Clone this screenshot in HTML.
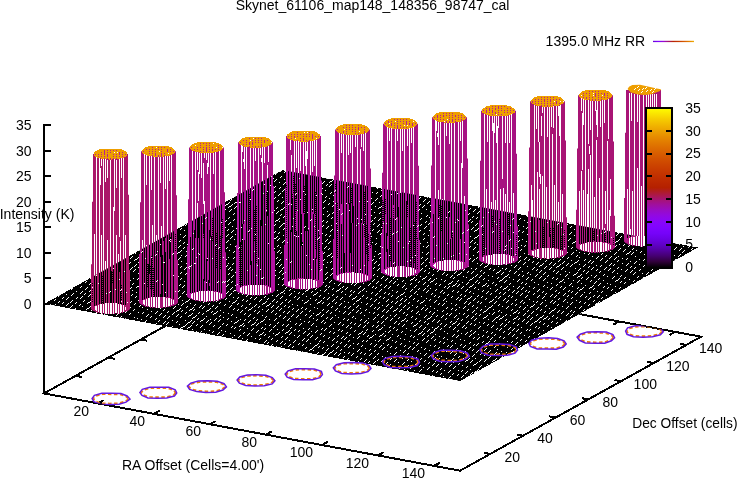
<!DOCTYPE html>
<html lang="en"><head><meta charset="utf-8"><title>Skynet_61106_map148_148356_98747_cal</title>
<style>
html,body{margin:0;padding:0;background:#fff;}
body{width:738px;height:478px;overflow:hidden;}
svg{display:block;}
text{font-family:"Liberation Sans",Arial,Helvetica,sans-serif;font-size:14px;fill:#000;}
</style></head><body>
<svg width="738" height="478" viewBox="0 0 738 478">
<defs>
<linearGradient id="cb" x1="0" y1="1" x2="0" y2="0">
<stop offset="0%" stop-color="#000000"/>
<stop offset="3.6%" stop-color="#300039"/>
<stop offset="7.1%" stop-color="#44006f"/>
<stop offset="10.7%" stop-color="#53009f"/>
<stop offset="14.3%" stop-color="#6001c7"/>
<stop offset="17.9%" stop-color="#6c01e6"/>
<stop offset="21.4%" stop-color="#7603f9"/>
<stop offset="25%" stop-color="#8004ff"/>
<stop offset="28.6%" stop-color="#8806f9"/>
<stop offset="32.1%" stop-color="#9108e6"/>
<stop offset="35.7%" stop-color="#980cc7"/>
<stop offset="39.3%" stop-color="#a00f9f"/>
<stop offset="42.9%" stop-color="#a7146f"/>
<stop offset="46.4%" stop-color="#ae1a39"/>
<stop offset="50%" stop-color="#b42000"/>
<stop offset="53.6%" stop-color="#bb2700"/>
<stop offset="57.1%" stop-color="#c13000"/>
<stop offset="60.7%" stop-color="#c73900"/>
<stop offset="64.3%" stop-color="#cc4400"/>
<stop offset="67.9%" stop-color="#d25000"/>
<stop offset="71.4%" stop-color="#d85d00"/>
<stop offset="75%" stop-color="#dd6c00"/>
<stop offset="78.6%" stop-color="#e27c00"/>
<stop offset="82.1%" stop-color="#e78d00"/>
<stop offset="85.7%" stop-color="#eca100"/>
<stop offset="89.3%" stop-color="#f1b600"/>
<stop offset="92.9%" stop-color="#f6cc00"/>
<stop offset="96.4%" stop-color="#fae500"/>
<stop offset="100%" stop-color="#ffff00"/>
</linearGradient>
<linearGradient id="lg" x1="0" y1="0" x2="1" y2="0">
<stop offset="0%" stop-color="#6601d7"/>
<stop offset="12.5%" stop-color="#8004ff"/>
<stop offset="25%" stop-color="#950ad7"/>
<stop offset="37.5%" stop-color="#a7146d"/>
<stop offset="50%" stop-color="#b82400"/>
<stop offset="62.5%" stop-color="#c73a00"/>
<stop offset="75%" stop-color="#d55700"/>
<stop offset="87.5%" stop-color="#e37e00"/>
<stop offset="100%" stop-color="#efae00"/>
</linearGradient>
<clipPath id="pc"><polygon points="44.6,303.7 282.3,170.1 697.8,247.5 460.1,381.1"/></clipPath>
<clipPath id="fc"><polygon points="44,393.4 285,259.4 701.1,336.7 460.1,470.7"/></clipPath>
</defs>
<rect width="738" height="478" fill="#fff"/>
<g stroke="#000" stroke-width="2" fill="none" shape-rendering="crispEdges">
<path d="M44 124V394"/>
<polygon points="44,393.4 285,259.4 701.1,336.7 460.1,470.7"/>
<path d="M44 303.7H51M44 278.2H51M44 252.6H51M44 227.1H51M44 201.6H51M44 176H51M44 150.5H51M44 125H51"/>
<path d="M98 403.4l5.7 -3.2M339 269.4l-5.7 3.2M154 413.8l5.7 -3.2M395 279.8l-5.7 3.2M210 424.2l5.7 -3.2M451 290.2l-5.7 3.2M266 434.6l5.7 -3.2M507 300.6l-5.7 3.2M322 445l5.7 -3.2M563 311l-5.7 3.2M378 455.4l5.7 -3.2M619 321.4l-5.7 3.2M434 465.9l5.7 -3.2M675 331.9l-5.7 3.2M490.3 453.9l-6.4 -1.2M75.7 375.8l6.4 1.2M523 435.7l-6.4 -1.2M108.4 357.6l6.4 1.2M555.6 417.6l-6.4 -1.2M141 339.5l6.4 1.2M588.3 399.4l-6.4 -1.2M173.7 321.3l6.4 1.2M621 381.2l-6.4 -1.2M206.4 303.1l6.4 1.2M653.6 363.1l-6.4 -1.2M239 285l6.4 1.2M686.3 344.9l-6.4 -1.2M271.7 266.8l6.4 1.2"/>
</g>
<polygon points="44.6,303.7 282.3,170.1 697.8,247.5 460.1,381.1" fill="#000" shape-rendering="crispEdges"/>
<path clip-path="url(#pc)" d="M45 303l1-1M49 299l1-1M49 306l2-2M54 301l2-2M53 307l3-3M58 297l3-3M58 303l2-2M57 309l3-3M63 293l2-2M62 299l2-2M62 304l2-2M66 295l1-1M66 300l3-3M66 306l3-3M71 290l2-2M71 296l3-3M70 303l3-3M70 308l3-3M76 286l3-3M76 292l1-1M76 299l2-2M75 304l2-2M74 310l2-2M81 282l2-2M80 288l2-2M80 294l3-3M80 299l3-3M79 306l2-2M78 313l2-2M85 283l2-2M85 290l3-3M84 295l2-2M83 302l2-2M82 307l1-1M82 313l2-2M90 279l3-3M89 285l2-2M89 292l3-3M88 297l3-3M87 304l2-2h1l2-2M86 310l2-2h1l2-2M95 275l2-2M94 281l2-2M94 287l1-1M93 292l3-3M92 299l1-1M91 305l1-1M91 311l1-1M98 277l3-3M98 283l3-3M98 289l3-3M97 295l3-3M97 301l2-2M95 307l1-1M95 314l3-3M104 273l3-3M102 279l1-1M102 285l2-2M101 290l2-2M101 296l1-1M100 303l1-1M99 309l2-2M100 315l2-2M108 268l3-3M107 274l3-3M107 280l1-1M106 286l3-3M106 292l2-2M104 298l3-3M105 304l1-1M103 310l1-1M103 316l3-3M112 264l3-3M113 270l3-3M111 276l2-2M110 282l3-3M110 289l2-2h1l2-2M110 294l1-1M109 301l2-2h1l2-2M109 306l2-2M108 312l3-3M117 265l2-2M116 271l3-3M116 278l2-2M115 283l3-3M114 289l3-3M114 296l3-3M113 303l2-2M112 308l3-3M112 314l2-2M121 261l1-1M121 267l3-3M121 274l2-2M118 280l2-2h1l2-2M119 286l3-3M118 291l1-1M117 298l2-2M117 304l3-3M116 310l1-1M116 316l3-3M126 256l1-1M126 263l2-2M125 269l2-2M123 276l2-2h1l2-2M124 281l2-2M123 288l1-1M123 293l3-3M122 299l3-3M121 306l2-2M121 311l1-1M120 318l2-2M130 259l3-3M129 264l2-2M130 270l3-3M129 277l1-1M128 283l3-3M127 291l2-2h1l2-2M127 295l3-3M126 301l2-2M125 307l1-1M125 313l2-2M124 320l2-2M135 254l1-1M134 261l2-2h1l2-2M134 267l3-3M133 272l3-3M133 279l1-1M132 285l2-2M132 291l1-1M131 296l2-2M130 303l2-2M129 309l2-2M129 315l2-2M128 321l1-1M139 251l3-3M139 256l1-1M138 263l3-3M138 268l3-3M138 274l3-3M137 280l2-2M136 288l2-2h1l2-2M136 293l1-1M135 298l2-2M134 305l2-2M133 311l2-2M134 318l1-1M145 246l2-2M144 251l2-2M144 257l3-3M143 264l3-3M142 271l1-1M140 277l2-2h1l2-2M140 282l1-1M141 288l2-2M139 295l2-2h1l2-2M138 301l2-2h1l2-2M139 307l2-2M138 313l1-1M137 319l1-1M148 247l2-2M147 254l3-3M147 259l3-3M147 265l1-1M146 272l2-2M146 278l2-2M145 284l2-2M145 291l1-1M144 296l2-2M143 303l2-2M142 308l1-1M142 314l2-2M141 320l1-1M154 243l2-2M153 249l3-3M152 256l2-2M152 262l1-1M151 268l2-2M150 274l2-2M150 280l3-3M149 286l2-2M149 292l2-2M147 298l3-3M147 305l3-3M147 310l1-1M146 317l3-3M145 322l2-2M158 238l2-2M157 245l2-2M155 252l2-2h1l2-2M156 258l3-3M156 264l2-2M155 269l2-2M154 276l2-2M154 282l3-3M153 287l2-2M153 294l1-1M152 300l3-3M151 306l2-2M151 312l1-1M150 318l2-2M150 324l1-1M162 240l1-1M161 246l1-1M161 253l3-3M161 259l1-1M159 265l2-2M159 271l2-2M158 278l2-2M158 283l3-3M157 290l3-3M157 295l2-2M156 301l2-2M155 308l2-2h1l2-2M155 314l3-3M155 320l2-2M152 327l2-2h1l2-2M166 237l1-1M166 243l3-3M166 249l3-3M165 255l2-2M164 261l3-3M164 267l3-3M163 273l2-2M162 279l2-2M162 285l1-1M161 291l1-1M161 298l3-3M161 303l1-1M160 309l3-3M159 316l3-3M158 322l2-2M172 232l1-1M170 238l3-3M170 245l1-1M170 251l3-3M169 256l1-1M168 263l3-3M168 268l1-1M167 275l3-3M166 281l3-3M166 287l2-2M165 293l3-3M165 300l3-3M164 306l3-3M163 311l2-2M163 318l3-3M163 324l3-3M176 228l3-3M175 234l1-1M175 240l2-2M174 246l3-3M174 252l3-3M173 258l1-1M173 264l3-3M172 271l2-2M171 276l2-2M171 283l3-3M170 289l3-3M169 295l2-2M169 302l3-3M168 307l3-3M167 313l2-2M167 319l3-3M166 325l3-3M180 230l2-2M180 235l1-1M179 242l2-2M178 248l3-3M177 254l2-2h1l2-2M178 260l3-3M176 267l3-3M176 272l2-2M176 279l3-3M175 285l3-3M175 291l1-1M174 296l2-2M173 303l2-2M173 309l3-3M172 315l3-3M172 321l1-1M171 328l2-2M185 226l2-2M184 231l1-1M183 238l3-3M183 244l2-2M183 249l2-2M181 256l1-1M181 262l1-1M180 268l2-2M180 274l2-2M180 280l2-2M179 286l2-2M178 292l2-2M176 300l2-2h1l2-2M178 305l1-1M176 312l2-2h1l2-2M176 317l3-3M176 323l2-2M174 329l1-1M189 223l2-2h1l2-2M189 227l1-1M189 233l3-3M188 239l2-2M187 245l1-1M186 252l1-1M185 257l2-2M186 264l2-2M184 270l3-3M185 275l3-3M184 282l1-1M182 288l3-3M182 294l3-3M182 301l1-1M181 306l3-3M181 312l2-2M180 318l2-2M179 325l1-1M179 330l3-3M193 224l2-2h1l2-2M193 229l1-1M193 235l1-1M192 241l2-2M192 247l3-3M190 253l1-1M191 260l2-2M189 265l1-1M189 272l2-2M188 278l2-2M188 284l3-3M187 290l3-3M186 295l3-3M185 303l2-2h1l2-2M186 308l2-2M185 314l2-2M185 321l1-1M182 328l2-2h1l2-2M198 218l1-1M198 224l2-2M197 231l1-1M196 237l2-2M196 243l2-2M194 249l2-2h1l2-2M195 255l3-3M194 261l3-3M194 267l3-3M193 273l3-3M193 280l1-1M192 285l1-1M191 292l3-3M189 298l2-2h1l2-2M190 304l1-1M189 311l2-2h1l2-2M188 317l2-2h1l2-2M187 324l2-2h1l2-2M187 329l2-2h1l2-2M202 216l2-2h1l2-2M202 221l2-2M202 226l1-1M201 233l2-2M201 239l1-1M200 245l3-3M199 251l3-3M199 256l3-3M197 264l2-2h1l2-2M197 269l3-3M197 275l3-3M197 281l1-1M196 288l1-1M196 294l3-3M193 300l2-2h1l2-2M194 306l2-2M193 311l2-2M192 319l2-2h1l2-2M192 324l3-3M192 330l1-1M207 216l1-1M207 222l2-2M206 228l1-1M206 234l2-2M205 240l1-1M205 246l3-3M204 252l2-2M203 258l3-3M202 265l2-2M201 271l3-3M202 277l3-3M201 283l3-3M200 290l2-2M200 295l2-2M198 301l3-3M199 308l3-3M198 314l2-2M197 320l2-2M196 326l2-2M196 332l1-1M212 212l3-3M211 218l1-1M211 224l2-2M210 231l2-2h1l2-2M209 236l1-1M209 242l2-2M209 248l2-2M206 255l2-2h1l2-2M208 261l2-2M207 266l1-1M206 273l1-1M206 279l3-3M204 285l2-2M204 291l2-2M203 297l2-2M203 303l2-2M202 309l3-3M202 315l2-2M200 322l2-2h1l2-2M200 328l3-3M200 333l2-2M216 208l1-1M215 214l2-2h1l2-2M216 219l2-2M215 226l2-2M214 232l3-3M213 238l3-3M213 245l2-2M213 250l2-2M211 256l2-2M211 263l2-2h1l2-2M211 269l2-2M211 275l1-1M209 281l1-1M209 286l2-2M208 293l3-3M208 299l2-2M208 305l2-2M206 312l2-2h1l2-2M206 317l1-1M206 323l3-3M204 330l1-1M204 336l3-3M222 204l1-1M220 209l3-3M220 215l3-3M219 222l2-2h1l2-2M219 227l3-3M218 233l2-2M218 240l3-3M217 246l2-2M217 251l2-2M215 259l2-2M215 264l2-2M215 270l3-3M214 277l2-2M214 283l2-2M213 289l3-3M213 295l2-2M211 300l2-2M212 307l2-2M211 313l2-2M210 320l1-1M209 325l3-3M209 331l1-1M225 206l2-2h1l2-2M224 211l2-2M224 218l1-1M224 223l3-3M223 230l3-3M223 236l1-1M222 241l3-3M222 247l3-3M221 254l3-3M220 260l1-1M219 266l2-2M219 272l1-1M218 278l3-3M218 284l1-1M216 290l3-3M217 297l2-2M216 302l2-2M215 309l3-3M213 315l2-2h1l2-2M214 321l3-3M213 327l2-2M212 333l2-2M230 201l2-2M228 208l2-2h1l2-2M229 212l3-3M228 219l2-2M228 225l3-3M227 231l2-2M226 237l3-3M226 243l3-3M226 249l2-2M224 256l2-2M224 262l3-3M223 269l2-2h1l2-2M222 274l2-2M223 280l1-1M222 286l1-1M221 292l3-3M220 299l2-2M219 304l2-2M220 311l1-1M219 317l2-2M218 322l3-3M218 329l3-3M217 335l3-3M235 197l1-1M234 204l2-2h1l2-2M234 209l3-3M233 215l2-2M233 221l2-2M232 227l1-1M231 233l3-3M230 239l3-3M230 245l1-1M229 251l1-1M228 258l1-1M228 264l1-1M228 270l3-3M228 275l2-2M227 282l3-3M226 287l3-3M226 294l3-3M225 300l2-2M224 306l2-2M223 313l1-1M223 318l1-1M222 325l2-2M221 331l1-1M221 337l3-3M239 198l2-2M239 204l2-2M238 211l2-2M238 216l3-3M237 222l2-2M236 229l2-2M235 235l1-1M234 240l1-1M235 247l3-3M233 253l2-2M233 259l2-2M232 265l2-2M231 271l2-2M231 278l3-3M231 283l2-2M230 290l3-3M229 296l3-3M229 302l1-1M229 308l3-3M228 314l1-1M227 320l2-2M226 326l2-2M225 332l1-1M225 339l1-1M243 194l1-1M243 200l3-3M242 206l2-2M242 212l3-3M242 218l1-1M240 225l2-2h1l2-2M240 230l2-2M240 237l1-1M239 243l3-3M238 249l3-3M238 255l2-2M237 261l2-2M237 267l3-3M235 273l2-2M236 279l3-3M235 286l2-2M233 292l2-2h1l2-2M233 298l1-1M232 304l2-2h1l2-2M233 310l2-2M231 316l2-2M231 322l1-1M231 328l2-2M230 334l1-1M228 341l2-2h1l2-2M247 191l2-2h1l2-2M247 196l1-1M247 202l1-1M246 208l2-2M246 214l2-2M246 219l2-2M245 227l2-2M244 232l2-2M242 239l2-2h1l2-2M242 245l2-2M242 250l2-2M241 256l2-2M240 264l2-2h1l2-2M241 269l3-3M239 276l2-2h1l2-2M239 281l2-2M239 287l2-2M238 294l2-2M237 299l2-2M237 305l2-2M237 311l2-2M236 318l1-1M234 324l2-2h1l2-2M234 329l2-2M234 336l1-1M233 342l1-1M254 185l3-3M252 192l3-3M252 198l3-3M251 203l3-3M249 211l2-2h1l2-2M250 216l1-1M249 221l2-2M249 228l1-1M247 236l2-2h1l2-2M248 240l3-3M246 247l2-2M247 253l3-3M245 259l3-3M245 265l2-2M244 271l2-2M244 277l3-3M242 284l2-2h1l2-2M243 289l2-2M242 295l1-1M242 301l2-2M241 307l2-2M240 313l3-3M240 320l1-1M239 327l2-2h1l2-2M239 331l2-2M238 338l3-3M256 188l2-2h1l2-2M257 193l2-2M256 199l2-2M256 206l1-1M255 212l2-2M254 218l3-3M254 223l1-1M253 230l3-3M252 236l1-1M251 242l3-3M250 248l2-2h1l2-2M250 254l1-1M250 261l2-2M249 267l2-2M249 272l2-2M248 278l2-2M248 284l2-2M247 290l3-3M246 297l3-3M246 302l2-2M245 309l2-2M244 315l2-2M244 321l2-2M243 327l2-2M243 334l2-2M242 339l1-1M262 183l3-3M261 189l1-1M261 195l3-3M260 201l2-2M259 207l3-3M259 213l1-1M258 220l2-2M257 226l2-2M257 231l3-3M257 238l1-1M255 244l3-3M255 250l3-3M255 255l2-2M254 262l2-2M252 269l2-2h1l2-2M253 275l2-2M252 280l2-2M252 287l3-3M250 293l3-3M250 299l2-2M249 305l2-2M248 311l2-2h1l2-2M248 317l3-3M248 323l3-3M247 329l1-1M247 336l3-3M246 341l2-2M267 179l1-1M266 185l1-1M265 190l1-1M265 197l3-3M264 203l3-3M263 209l3-3M263 214l1-1M262 221l2-2M261 228l1-1M262 233l2-2M260 239l2-2M260 246l2-2M258 252l2-2h1l2-2M259 258l3-3M258 264l2-2M258 269l2-2M257 276l1-1M256 282l2-2M256 288l2-2M254 295l2-2h1l2-2M254 300l3-3M254 307l3-3M254 312l2-2M253 319l2-2M251 326l2-2h1l2-2M251 331l3-3M251 337l1-1M250 343l1-1M271 175l3-3M270 180l3-3M270 187l2-2M270 193l2-2M268 199l3-3M268 205l3-3M268 211l3-3M267 218l2-2h1l2-2M266 223l2-2M266 229l3-3M266 236l2-2M265 242l2-2M264 247l1-1M263 254l2-2M262 260l2-2h1l2-2M262 266l2-2M261 272l2-2M261 278l2-2M261 284l3-3M260 290l2-2M259 296l3-3M259 302l3-3M258 308l2-2M257 314l3-3M256 321l2-2M256 326l3-3M256 333l3-3M255 339l1-1M254 345l1-1M275 175l2-2M274 182l3-3M274 188l2-2M273 194l3-3M273 200l3-3M272 206l2-2M272 213l3-3M271 218l3-3M271 224l2-2M270 231l2-2M269 238l2-2h1l2-2M269 243l1-1M268 249l1-1M268 256l1-1M267 261l3-3M267 267l3-3M265 273l2-2M265 280l2-2M264 285l3-3M264 292l2-2M264 298l2-2M262 305l2-2h1l2-2M262 310l1-1M262 316l1-1M260 323l2-2h1l2-2M261 329l2-2M259 336l2-2h1l2-2M259 340l2-2M280 172l1-1M280 178l2-2M279 183l1-1M279 189l2-2M278 196l3-3M277 202l2-2M276 209l2-2M276 214l3-3M275 222l2-2h1l2-2M274 226l2-2M274 233l2-2M273 240l2-2h1l2-2M272 245l1-1M272 251l3-3M272 256l1-1M271 264l2-2M271 270l2-2M269 276l3-3M269 281l1-1M269 288l1-1M268 293l2-2M267 300l2-2M266 307l2-2h1l2-2M266 312l3-3M265 318l2-2M265 325l1-1M264 330l2-2M264 336l2-2M264 343l3-3M284 173l2-2M284 180l1-1M283 185l3-3M282 192l3-3M282 198l1-1M281 204l3-3M280 211l2-2h1l2-2M280 216l2-2M279 222l1-1M279 228l3-3M278 234l2-2M277 241l3-3M277 247l2-2M277 253l3-3M276 259l2-2M276 265l3-3M275 271l1-1M274 277l2-2M274 283l1-1M272 289l2-2M272 296l1-1M272 302l3-3M271 308l3-3M271 313l3-3M269 320l1-1M269 326l2-2M269 332l3-3M268 338l2-2M267 344l2-2M289 169l3-3M288 176l1-1M287 181l3-3M287 187l2-2M286 194l2-2M286 200l3-3M285 206l1-1M285 211l3-3M283 218l2-2M282 225l2-2h1l2-2M283 230l3-3M283 236l1-1M282 243l3-3M280 248l1-1M280 254l2-2M279 261l2-2M279 267l3-3M279 273l3-3M278 279l2-2M278 285l1-1M277 291l1-1M276 297l3-3M276 303l2-2M276 309l3-3M275 315l2-2M274 321l3-3M273 328l3-3M273 334l1-1M271 340l2-2M271 346l2-2M292 171l2-2M293 177l3-3M292 183l3-3M292 189l2-2M290 195l2-2M290 201l1-1M289 208l3-3M289 213l1-1M288 220l2-2h1l2-2M287 226l1-1M287 232l3-3M287 238l3-3M286 244l1-1M285 250l2-2M284 256l1-1M284 263l3-3M282 269l2-2h1l2-2M282 275l2-2M282 280l2-2M282 286l3-3M280 294l2-2h1l2-2M280 299l3-3M280 305l3-3M279 311l3-3M279 317l2-2M277 324l2-2M277 330l1-1M275 336l2-2h1l2-2M276 342l2-2M275 348l2-2M297 172l1-1M296 179l1-1M296 185l2-2M295 192l3-3M294 197l2-2M293 204l2-2h1l2-2M294 209l3-3M293 215l3-3M292 221l2-2M291 227l2-2M291 233l3-3M291 240l2-2M290 246l2-2M289 252l3-3M289 258l2-2M288 264l1-1M287 271l3-3M287 277l2-2M286 282l2-2M285 289l2-2M284 294l1-1M285 301l2-2M284 307l2-2M283 313l2-2M283 319l3-3M282 326l2-2M282 331l2-2M281 338l2-2M280 344l3-3M279 349l3-3M301 175l3-3M300 180l2-2M299 188l2-2h1l2-2M298 194l2-2h1l2-2M299 199l3-3M299 205l2-2M297 212l1-1M296 217l2-2M296 224l3-3M296 229l1-1M295 235l2-2M295 241l2-2M294 248l3-3M293 254l3-3M292 259l2-2M292 266l3-3M291 272l3-3M291 279l3-3M290 284l1-1M289 291l2-2M289 296l3-3M288 303l3-3M288 308l2-2M287 314l3-3M287 321l3-3M286 327l3-3M285 334l2-2h1l2-2M285 340l3-3M284 345l2-2M305 177l3-3M305 183l3-3M304 188l2-2M303 195l1-1M303 201l2-2M303 207l2-2M301 213l2-2M302 219l3-3M301 226l2-2M300 231l2-2M299 238l1-1M299 244l2-2M298 249l2-2M298 255l3-3M296 262l3-3M296 268l1-1M296 274l3-3M295 281l1-1M294 286l2-2M294 292l1-1M294 298l2-2M292 305l1-1M292 310l2-2M291 317l3-3M290 322l1-1M290 329l2-2M289 335l3-3M289 341l1-1M288 347l3-3M309 178l3-3M309 184l2-2M309 190l3-3M307 196l1-1M307 203l2-2M306 209l2-2M306 215l1-1M305 221l3-3M304 226l2-2M304 233l3-3M303 239l2-2M303 245l3-3M302 251l1-1M302 258l2-2M301 263l3-3M301 270l2-2M299 276l2-2M299 281l3-3M298 288l2-2M298 294l2-2M297 300l3-3M297 306l1-1M296 312l3-3M296 318l3-3M295 325l2-2M294 331l2-2M294 336l1-1M293 343l3-3M292 348l2-2M313 180l2-2M312 186l2-2M313 192l2-2M311 198l3-3M311 204l2-2M310 211l2-2h1l2-2M310 217l2-2M309 223l1-1M309 229l1-1M308 235l2-2M308 241l3-3M307 247l3-3M306 253l3-3M305 260l3-3M305 266l3-3M303 273l2-2h1l2-2M304 277l3-3M304 284l1-1M302 289l3-3M302 295l2-2M302 301l1-1M301 309l2-2M300 314l3-3M300 320l1-1M299 326l3-3M298 332l2-2M297 338l3-3M298 345l2-2M297 351l1-1M318 176l3-3M318 182l2-2M317 188l3-3M317 194l2-2M316 200l1-1M315 206l2-2M315 212l3-3M314 219l3-3M314 225l2-2M313 231l2-2M312 237l3-3M312 242l2-2M311 249l2-2M310 255l1-1M309 262l2-2M308 268l2-2h1l2-2M308 273l3-3M307 279l1-1M307 286l3-3M305 292l2-2h1l2-2M306 297l1-1M304 304l2-2h1l2-2M305 310l2-2M305 316l2-2M304 322l1-1M303 329l1-1M303 334l3-3M302 341l3-3M302 346l2-2M301 353l2-2M323 178l3-3M320 185l2-2h1l2-2M321 190l2-2M321 196l2-2M320 202l2-2M319 207l2-2M318 213l1-1M318 220l1-1M318 226l2-2M317 233l2-2M316 239l2-2M315 244l3-3M315 250l3-3M315 257l3-3M313 262l3-3M314 269l2-2M313 275l2-2M313 281l3-3M311 288l2-2M311 293l2-2M310 299l1-1M310 305l1-1M309 312l2-2M309 318l3-3M308 323l2-2M308 330l2-2M307 336l3-3M306 342l3-3M305 349l2-2M305 355l3-3M326 179l2-2M326 186l2-2M325 191l1-1M325 198l2-2M323 203l3-3M323 209l2-2M323 215l1-1M322 222l2-2M322 227l2-2M321 235l2-2M320 240l2-2M320 246l3-3M319 252l2-2M318 258l1-1M317 264l2-2M318 271l3-3M317 276l2-2M316 283l1-1M315 290l3-3M313 296l2-2h1l2-2M315 301l2-2M314 308l1-1M313 314l1-1M313 319l1-1M311 326l3-3M311 332l1-1M310 338l3-3M310 344l1-1M309 351l2-2h1l2-2M309 356l1-1M329 183l2-2h1l2-2M329 187l3-3M330 194l2-2M329 199l1-1M328 205l2-2M327 212l1-1M327 217l3-3M326 223l2-2M326 229l3-3M325 236l2-2M325 242l3-3M324 249l3-3M323 254l2-2M323 261l2-2M322 266l2-2M322 273l1-1M320 278l2-2M321 285l3-3M320 291l1-1M319 297l2-2M317 304l2-2h1l2-2M317 309l1-1M316 316l2-2h1l2-2M316 321l2-2M316 327l1-1M315 333l3-3M315 340l3-3M314 347l2-2h1l2-2M313 351l1-1M334 183l3-3M334 188l2-2M333 196l3-3M333 202l2-2M332 207l2-2M332 214l3-3M331 219l2-2M331 226l1-1M330 232l3-3M329 237l2-2M328 244l3-3M328 250l2-2M327 257l2-2h1l2-2M327 263l1-1M326 268l1-1M325 275l3-3M325 280l3-3M325 287l2-2M324 292l3-3M323 299l2-2M322 304l2-2M322 311l2-2M321 317l3-3M321 323l3-3M321 330l2-2M320 335l2-2M319 342l2-2M318 348l2-2M317 354l2-2M338 185l1-1M338 191l3-3M337 197l1-1M337 202l3-3M336 208l2-2M336 215l1-1M335 221l2-2M334 227l3-3M334 234l2-2M333 240l3-3M333 245l1-1M333 251l3-3M331 258l2-2h1l2-2M330 263l2-2M331 270l2-2M330 276l3-3M329 283l3-3M328 288l2-2M328 294l1-1M327 300l3-3M327 306l3-3M326 313l3-3M326 319l2-2M324 324l2-2M324 331l3-3M323 337l2-2M323 343l2-2M322 349l2-2M321 356l2-2h1l2-2M343 181l2-2h1l2-2M343 186l2-2M342 193l2-2M341 198l3-3M340 205l2-2h1l2-2M341 211l2-2M339 216l1-1M339 223l3-3M338 229l3-3M338 236l3-3M338 241l3-3M336 248l3-3M336 253l2-2M335 259l3-3M335 265l1-1M334 272l2-2M334 278l1-1M334 284l1-1M332 290l2-2M332 296l2-2M332 302l3-3M331 308l2-2M330 314l2-2M330 320l3-3M329 327l3-3M329 333l2-2M328 339l2-2M327 346l1-1M326 351l3-3M326 357l3-3M347 182l2-2M347 188l2-2M346 194l2-2M346 200l1-1M344 206l2-2M345 213l3-3M344 219l2-2M343 225l1-1M343 231l1-1M342 237l2-2M341 243l2-2M341 249l3-3M340 255l3-3M339 261l2-2M339 268l2-2M338 274l2-2M338 279l3-3M338 286l3-3M336 292l2-2h1l2-2M336 298l2-2M335 304l2-2M335 311l3-3M335 316l1-1M334 323l1-1M333 329l1-1M333 334l2-2M332 341l3-3M331 347l3-3M329 354l2-2h1l2-2M330 359l1-1M351 184l1-1M351 190l1-1M349 197l2-2h1l2-2M349 203l3-3M349 209l3-3M348 214l3-3M348 220l2-2M347 227l3-3M346 232l3-3M347 238l1-1M344 246l2-2h1l2-2M345 251l2-2M345 258l1-1M343 263l1-1M343 270l2-2M343 276l1-1M342 281l3-3M342 288l2-2M341 293l2-2M340 300l3-3M339 306l3-3M339 312l1-1M338 318l1-1M338 325l3-3M338 331l2-2M337 337l2-2M336 343l2-2M336 349l3-3M334 355l3-3M356 185l3-3M355 192l3-3M354 198l1-1M353 204l3-3M353 210l3-3M352 217l1-1M352 222l2-2M351 229l3-3M350 235l2-2M350 240l2-2M350 247l3-3M349 252l2-2M349 259l3-3M347 265l3-3M348 271l2-2M347 277l1-1M346 283l3-3M345 290l3-3M345 295l1-1M344 302l1-1M344 308l2-2M343 314l3-3M343 320l2-2M342 326l2-2M341 332l2-2M341 339l3-3M340 344l2-2M340 351l2-2M338 356l3-3M359 188l1-1M359 194l1-1M359 200l3-3M358 205l3-3M357 212l2-2M357 218l2-2M356 225l3-3M355 230l3-3M354 238l2-2h1l2-2M353 244l2-2h1l2-2M353 248l2-2M353 256l2-2h1l2-2M352 261l3-3M352 267l3-3M351 273l3-3M351 279l3-3M351 285l3-3M350 292l2-2M349 297l3-3M348 303l1-1M348 309l3-3M348 315l3-3M347 321l2-2M346 328l3-3M346 334l2-2M344 340l3-3M344 347l3-3M344 353l1-1M343 358l2-2M364 184l3-3M364 189l1-1M364 195l2-2M363 201l2-2M362 207l2-2M361 214l3-3M361 219l1-1M360 226l2-2M360 232l1-1M358 239l2-2h1l2-2M359 244l1-1M358 250l3-3M357 256l1-1M357 263l3-3M356 268l2-2M354 276l2-2h1l2-2M354 281l2-2M354 286l3-3M353 293l2-2M352 300l2-2h1l2-2M353 305l2-2M352 311l2-2M352 318l2-2M350 324l2-2M350 329l2-2M349 336l2-2M348 342l2-2M348 348l3-3M348 354l2-2M347 360l2-2M368 185l1-1M368 191l3-3M368 197l2-2M367 204l1-1M367 209l2-2M365 216l2-2M365 222l1-1M365 228l1-1M364 234l1-1M364 240l3-3M363 246l3-3M362 252l2-2M361 258l3-3M361 264l1-1M360 270l3-3M360 277l1-1M359 283l3-3M358 289l3-3M358 294l3-3M356 302l2-2h1l2-2M356 308l3-3M356 313l3-3M355 319l1-1M354 325l2-2M354 332l2-2M353 338l1-1M353 344l1-1M353 349l1-1M351 356l3-3M351 362l1-1M372 187l2-2M372 193l1-1M371 199l1-1M369 206l2-2h1l2-2M370 211l2-2M370 217l2-2M368 224l2-2h1l2-2M369 230l2-2M366 236l2-2h1l2-2M367 241l2-2M367 248l2-2M366 254l2-2M366 260l2-2M365 266l1-1M364 272l2-2M364 278l3-3M363 284l1-1M362 291l3-3M362 297l2-2M361 303l1-1M360 309l1-1M360 314l2-2M360 321l2-2M358 327l3-3M358 335l2-2h1l2-2M357 339l3-3M357 345l2-2M357 352l3-3M356 358l2-2M356 364l3-3M377 189l3-3M376 194l2-2M375 201l3-3M375 207l1-1M374 213l1-1M374 219l2-2M373 225l2-2M372 231l2-2M371 237l1-1M372 243l1-1M371 250l1-1M370 256l2-2M369 263l2-2h1l2-2M369 268l3-3M369 274l1-1M368 280l3-3M368 286l3-3M366 292l1-1M366 299l2-2M366 305l2-2M365 311l2-2M364 316l1-1M364 323l3-3M363 328l3-3M363 335l3-3M362 342l2-2M361 347l2-2M360 354l2-2M360 360l2-2M359 365l2-2M381 191l2-2M380 197l2-2M379 203l1-1M378 209l2-2h1l2-2M379 214l2-2M378 221l3-3M377 227l3-3M377 233l3-3M376 239l1-1M375 245l2-2M375 252l1-1M374 257l1-1M374 264l3-3M373 269l2-2M373 276l2-2M372 282l3-3M372 288l2-2M371 294l2-2M370 300l2-2M370 307l3-3M369 313l1-1M368 319l1-1M367 324l2-2M366 331l2-2M367 337l2-2M366 342l2-2M365 349l1-1M364 355l2-2M364 362l3-3M385 192l1-1M384 198l2-2M383 204l3-3M383 211l2-2M383 217l2-2M382 222l3-3M381 228l2-2M380 235l2-2M381 240l2-2M380 247l2-2M378 255l2-2h1l2-2M379 259l2-2M378 266l2-2M377 271l3-3M377 277l1-1M376 284l3-3M375 289l2-2M375 296l3-3M374 302l3-3M374 309l2-2M373 314l2-2M373 320l3-3M372 327l2-2M372 332l2-2M369 339l2-2h1l2-2M370 345l2-2M369 351l2-2M369 356l3-3M368 363l2-2M389 194l3-3M388 200l2-2M388 206l1-1M387 212l2-2M387 218l1-1M386 225l2-2M386 231l3-3M384 237l1-1M384 243l1-1M383 249l2-2M382 255l2-2M382 261l3-3M381 267l2-2M381 273l2-2M381 279l3-3M380 286l2-2M379 292l3-3M379 298l2-2M378 304l2-2M377 310l3-3M377 316l2-2M377 323l2-2M376 328l3-3M375 335l1-1M375 341l1-1M374 347l3-3M374 352l2-2M373 359l3-3M373 364l3-3M394 190l2-2M393 196l3-3M393 202l1-1M392 207l3-3M391 214l2-2M391 220l2-2M390 226l1-1M389 232l2-2M389 238l3-3M388 245l3-3M388 251l2-2M388 257l2-2M385 263l2-2h1l2-2M386 269l3-3M385 275l1-1M385 281l3-3M384 288l3-3M384 294l2-2M383 299l2-2M382 306l1-1M382 312l3-3M381 318l3-3M381 324l3-3M378 331l2-2h1l2-2M379 337l2-2h1l2-2M378 342l3-3M379 348l3-3M377 355l2-2M377 361l2-2M376 367l2-2M398 192l3-3M397 198l3-3M397 203l2-2M396 210l2-2M395 216l1-1M395 222l2-2M394 228l1-1M393 234l3-3M393 240l1-1M393 246l3-3M392 252l2-2M391 258l3-3M391 265l1-1M390 271l2-2M390 277l3-3M389 283l3-3M388 289l3-3M388 295l2-2M386 302l3-3M386 307l3-3M386 313l3-3M385 320l3-3M384 326l1-1M385 332l1-1M384 337l2-2M383 344l1-1M382 350l3-3M382 357l1-1M381 362l2-2M380 369l2-2M401 193l3-3M401 199l1-1M400 205l2-2M400 212l3-3M399 218l2-2M399 223l3-3M398 230l1-1M396 237l2-2h1l2-2M396 243l2-2h1l2-2M396 249l1-1M396 254l2-2M395 261l1-1M395 267l1-1M394 273l2-2M393 279l3-3M393 284l3-3M392 291l1-1M391 297l2-2M391 303l2-2M390 309l3-3M390 316l1-1M390 321l3-3M389 328l2-2M388 333l3-3M386 341l2-2h1l2-2M387 346l2-2M387 352l1-1M385 358l1-1M386 364l2-2M405 195l3-3M404 202l2-2h1l2-2M404 207l2-2M404 214l2-2M404 220l2-2M403 226l2-2M402 232l3-3M401 238l1-1M401 244l2-2M400 251l2-2M400 256l3-3M400 263l3-3M399 268l3-3M398 275l2-2M397 280l1-1M397 286l2-2M396 293l2-2M396 299l3-3M395 304l3-3M393 312l2-2h1l2-2M394 317l3-3M394 324l3-3M393 329l2-2M392 335l1-1M392 341l1-1M390 348l2-2M390 354l1-1M390 360l2-2M389 366l2-2M409 198l2-2h1l2-2M410 204l1-1M409 209l1-1M408 216l3-3M408 221l3-3M407 227l1-1M406 234l1-1M406 240l3-3M405 246l3-3M405 251l2-2M405 258l2-2M403 264l2-2M403 271l2-2M402 276l2-2M402 282l2-2M402 288l3-3M400 296l2-2h1l2-2M400 301l3-3M399 306l3-3M399 312l3-3M398 319l2-2M398 325l2-2M396 331l2-2M397 337l2-2M395 343l2-2M395 349l2-2M394 355l3-3M394 362l3-3M393 368l2-2M414 199l3-3M414 205l3-3M413 211l3-3M412 217l3-3M411 223l3-3M411 230l1-1M411 235l2-2M410 241l2-2M410 247l3-3M409 254l2-2M408 259l3-3M408 266l1-1M407 271l3-3M406 278l3-3M405 284l1-1M405 290l2-2M405 297l1-1M404 302l3-3M403 308l3-3M403 314l2-2M401 322l2-2h1l2-2M402 327l3-3M401 333l2-2M400 339l1-1M400 345l2-2M400 351l1-1M399 357l2-2M398 363l1-1M398 370l2-2M418 195l2-2h1l2-2M418 200l3-3M418 207l3-3M417 212l3-3M417 218l2-2M416 225l3-3M415 231l3-3M414 237l3-3M414 243l1-1M414 249l2-2M413 256l3-3M413 262l2-2M412 268l3-3M411 273l2-2M410 281l2-2h1l2-2M410 285l2-2M410 292l3-3M409 298l3-3M408 304l2-2M407 310l3-3M406 316l2-2M406 322l2-2M406 329l1-1M405 335l1-1M404 340l1-1M404 347l2-2M403 353l3-3M402 359l1-1M402 365l3-3M402 372l3-3M423 196l3-3M423 202l3-3M422 208l3-3M421 214l1-1M420 220l2-2M420 226l2-2M419 232l2-2M418 239l1-1M419 245l2-2M418 252l2-2M417 257l3-3M417 263l3-3M415 270l1-1M416 276l1-1M415 281l2-2M414 288l3-3M414 294l3-3M413 300l2-2M412 306l1-1M411 312l2-2M411 318l2-2M411 324l2-2M410 331l1-1M410 337l2-2M409 342l1-1M408 349l3-3M407 355l2-2M407 361l2-2M406 368l3-3M405 373l3-3M427 198l1-1M427 204l3-3M426 210l1-1M426 217l2-2M425 223l2-2M424 229l3-3M423 235l2-2M423 240l2-2M423 247l1-1M422 253l1-1M421 259l2-2M421 265l3-3M420 271l3-3M420 277l1-1M418 283l2-2M418 290l2-2M417 295l1-1M417 302l2-2M416 308l2-2M416 314l3-3M415 320l2-2M413 327l2-2h1l2-2M414 332l3-3M413 338l2-2M413 344l2-2M412 350l3-3M412 357l1-1M411 362l1-1M410 369l3-3M431 200l2-2M430 206l2-2M430 212l3-3M429 218l1-1M428 225l2-2M429 231l2-2M428 236l1-1M427 243l1-1M426 248l3-3M426 255l3-3M425 261l3-3M425 267l2-2M424 272l2-2M422 280l2-2h1l2-2M423 285l3-3M423 291l3-3M421 297l1-1M420 304l2-2h1l2-2M421 310l3-3M419 315l1-1M419 322l2-2M419 328l3-3M418 335l2-2h1l2-2M417 340l1-1M416 346l3-3M417 352l2-2M415 359l2-2M415 365l3-3M414 371l1-1M435 201l1-1M435 207l1-1M434 214l3-3M433 220l3-3M432 227l2-2h1l2-2M432 232l2-2M431 238l3-3M431 244l3-3M430 251l2-2h1l2-2M430 257l3-3M429 263l1-1M429 269l1-1M428 274l2-2M428 281l3-3M427 287l2-2M426 293l3-3M426 299l1-1M425 306l1-1M425 311l3-3M424 318l3-3M424 323l2-2M423 330l3-3M422 336l3-3M422 341l3-3M421 348l1-1M420 354l1-1M420 360l2-2M419 367l2-2M419 372l3-3M439 203l3-3M438 210l3-3M438 216l2-2h1l2-2M437 222l2-2M437 228l2-2M436 234l3-3M436 240l3-3M436 246l3-3M435 252l2-2M434 259l1-1M433 264l3-3M433 270l2-2M432 276l2-2M430 283l2-2h1l2-2M430 289l1-1M431 295l2-2M429 301l2-2M430 307l1-1M429 313l2-2M427 320l2-2h1l2-2M427 325l2-2M427 332l3-3M427 337l2-2M426 343l3-3M424 350l2-2M424 356l3-3M424 362l2-2M423 368l1-1M423 375l1-1M444 199l1-1M443 205l1-1M443 211l2-2M442 218l2-2M442 224l3-3M441 229l1-1M440 235l3-3M440 242l3-3M439 248l1-1M438 255l1-1M438 261l1-1M437 267l3-3M437 272l2-2M436 279l1-1M435 285l2-2M435 291l2-2M434 297l2-2M434 303l3-3M434 309l1-1M432 315l3-3M432 322l3-3M432 328l1-1M430 334l2-2h1l2-2M431 339l3-3M430 346l1-1M429 351l1-1M428 358l3-3M428 364l2-2M427 370l3-3M426 376l1-1M448 201l3-3M448 207l3-3M447 214l2-2M446 219l3-3M445 225l2-2M445 231l3-3M445 238l3-3M444 243l2-2M443 250l3-3M443 256l3-3M442 262l3-3M442 268l1-1M442 275l3-3M441 280l1-1M439 286l2-2M440 293l3-3M438 298l2-2M438 305l2-2M437 311l1-1M436 317l2-2M437 323l3-3M434 330l2-2h1l2-2M435 335l1-1M434 341l2-2M434 347l2-2M433 353l2-2M433 360l3-3M432 366l3-3M432 372l2-2M430 378l3-3M452 202l2-2M452 209l3-3M451 215l1-1M451 221l3-3M449 227l3-3M448 234l2-2h1l2-2M449 240l3-3M448 246l1-1M446 253l2-2h1l2-2M447 258l3-3M446 264l2-2M445 270l1-1M446 276l2-2M444 282l2-2M444 288l2-2M443 294l2-2M443 301l3-3M442 306l3-3M442 312l2-2M441 318l3-3M440 325l2-2M440 330l2-2M439 337l1-1M439 343l2-2M438 349l2-2M437 356l1-1M435 362l2-2h1l2-2M436 367l3-3M436 373l2-2M457 205l2-2M455 212l2-2h1l2-2M455 217l2-2M454 223l2-2M454 229l2-2M453 236l2-2h1l2-2M452 241l3-3M452 247l2-2M451 253l2-2M452 260l3-3M451 265l3-3M450 271l1-1M450 278l3-3M448 285l2-2h1l2-2M447 289l3-3M447 296l2-2M446 302l1-1M446 309l2-2M446 315l2-2M445 320l2-2M444 327l3-3M444 332l1-1M443 339l2-2M443 344l2-2M442 351l2-2M441 357l1-1M441 363l2-2M440 370l2-2M440 375l2-2M461 206l2-2M459 213l2-2M459 219l1-1M459 225l3-3M458 231l3-3M457 237l2-2M455 244l2-2h1l2-2M456 249l2-2M455 255l2-2M454 262l2-2h1l2-2M455 268l2-2M454 274l3-3M453 279l2-2M452 287l2-2h1l2-2M452 292l2-2M451 298l2-2M451 304l1-1M451 310l2-2M449 316l3-3M450 323l2-2M449 328l2-2M447 334l1-1M447 340l1-1M447 347l2-2M446 352l1-1M446 359l1-1M445 365l3-3M444 371l1-1M443 377l1-1M465 209l3-3M464 215l2-2M463 220l1-1M463 226l2-2M461 234l2-2h1l2-2M462 238l2-2M462 245l1-1M460 251l3-3M460 257l1-1M459 263l2-2M459 269l3-3M457 276l2-2h1l2-2M457 282l2-2M457 287l3-3M457 293l2-2M456 300l3-3M455 306l2-2M455 311l2-2M454 318l3-3M452 325l2-2h1l2-2M453 330l3-3M452 337l3-3M451 342l2-2M450 348l3-3M450 354l3-3M449 362l2-2h1l2-2M449 367l3-3M448 373l3-3M448 379l3-3M468 205l2-2h1l2-2M469 210l2-2M468 215l2-2M468 222l3-3M467 228l1-1M466 234l1-1M465 241l2-2M465 247l3-3M464 252l2-2M464 259l2-2M464 265l3-3M463 271l2-2M463 277l1-1M462 283l1-1M461 289l3-3M460 296l2-2M459 301l3-3M459 308l1-1M459 314l1-1M457 320l2-2M457 326l3-3M457 332l2-2M456 338l3-3M455 344l1-1M455 351l3-3M454 356l3-3M453 363l1-1M453 369l3-3M452 375l2-2M451 381l2-2M473 206l3-3M473 212l3-3M472 218l2-2M471 223l2-2M471 230l3-3M470 237l1-1M470 243l3-3M469 248l2-2M468 254l1-1M468 261l3-3M468 267l1-1M467 273l2-2M466 278l1-1M466 285l3-3M465 292l3-3M464 297l2-2M464 304l3-3M463 309l3-3M463 315l2-2M461 321l2-2M462 328l3-3M461 334l1-1M460 340l1-1M460 346l2-2M459 352l2-2M458 358l2-2M458 365l2-2M458 371l1-1M457 376l2-2M456 382l2-2M478 208l1-1M477 214l3-3M476 219l2-2M475 226l3-3M474 232l2-2h1l2-2M474 239l2-2h1l2-2M474 244l2-2M473 250l3-3M473 256l1-1M472 262l3-3M471 269l1-1M471 274l3-3M469 281l2-2h1l2-2M469 288l2-2h1l2-2M469 293l2-2M467 300l2-2h1l2-2M468 305l3-3M467 311l2-2M466 318l3-3M466 324l3-3M465 329l2-2M465 335l3-3M464 341l1-1M463 348l3-3M463 354l3-3M462 360l2-2M462 366l1-1M461 372l2-2M461 378l3-3M482 209l3-3M481 216l3-3M480 221l1-1M479 228l3-3M479 234l2-2M479 240l3-3M477 245l1-1M477 253l2-2h1l2-2M476 259l2-2M477 264l1-1M475 270l2-2M475 277l3-3M475 283l3-3M474 289l2-2M473 294l1-1M473 301l3-3M472 307l2-2M472 313l3-3M471 319l3-3M470 325l2-2M470 332l2-2M469 337l3-3M469 344l2-2M468 350l3-3M467 356l2-2M465 362l2-2h1l2-2M466 368l2-2M465 374l3-3M465 380l3-3M486 211l3-3M485 217l1-1M485 224l2-2M484 230l2-2M483 236l3-3M482 242l1-1M483 248l2-2M482 253l3-3M481 260l3-3M480 266l3-3M480 272l2-2M479 278l3-3M478 284l2-2M478 290l1-1M477 297l2-2M477 303l2-2M476 309l2-2M475 315l2-2M474 321l3-3M474 326l2-2M473 334l3-3M473 339l2-2M473 346l2-2M472 351l2-2M472 357l3-3M470 363l3-3M470 370l1-1M470 375l3-3M490 213l1-1M489 219l2-2M489 225l1-1M488 232l3-3M488 237l1-1M487 243l2-2M487 250l2-2M486 256l2-2M485 262l2-2M484 268l2-2h1l2-2M483 274l2-2M483 280l2-2M482 287l2-2h1l2-2M482 292l2-2M481 298l2-2M480 304l2-2M480 311l2-2M479 316l2-2M479 323l1-1M478 329l3-3M478 335l1-1M477 340l3-3M476 346l3-3M476 353l3-3M475 359l1-1M473 366l2-2h1l2-2M474 373l2-2h1l2-2M495 208l1-1M493 215l3-3M493 220l3-3M493 227l3-3M492 233l3-3M492 239l2-2M491 246l2-2M490 251l2-2M490 258l3-3M489 263l2-2M489 270l2-2M488 276l1-1M488 281l1-1M487 287l2-2M486 294l3-3M485 300l2-2M485 307l1-1M483 313l2-2h1l2-2M483 319l2-2h1l2-2M483 324l2-2M483 331l1-1M482 337l2-2M482 343l2-2M481 349l3-3M480 355l2-2M479 362l3-3M479 368l3-3M478 373l1-1M498 210l3-3M498 217l3-3M498 223l3-3M496 228l3-3M496 235l2-2M496 241l3-3M495 247l3-3M494 253l3-3M494 259l2-2M493 265l1-1M493 271l2-2M492 277l1-1M492 284l2-2M490 289l1-1M490 295l2-2M489 303l2-2h1l2-2M488 309l2-2h1l2-2M489 314l1-1M488 320l1-1M487 326l2-2M486 333l2-2M487 338l2-2M485 345l2-2h1l2-2M484 351l3-3M484 356l2-2M484 362l3-3M483 369l2-2M503 212l3-3M502 219l3-3M502 225l2-2M501 231l2-2M500 236l3-3M500 243l2-2M499 249l1-1M499 255l3-3M498 261l2-2M498 267l1-1M496 274l2-2h1l2-2M497 279l2-2M495 286l2-2M495 292l3-3M495 298l2-2M494 304l3-3M493 310l1-1M492 315l3-3M492 322l3-3M491 328l3-3M491 334l2-2M490 340l3-3M489 346l2-2M488 353l3-3M488 359l3-3M487 365l1-1M505 215l2-2h1l2-2M506 221l2-2h1l2-2M505 226l3-3M504 233l3-3M505 238l2-2M504 245l1-1M504 251l1-1M503 257l3-3M501 263l2-2h1l2-2M502 269l1-1M501 275l3-3M499 282l2-2h1l2-2M500 288l2-2M499 294l2-2M498 299l3-3M498 306l2-2M498 312l2-2M495 319l2-2h1l2-2M496 323l1-1M496 330l2-2M494 336l2-2M494 342l2-2M494 348l2-2M494 355l3-3M492 362l2-2h1l2-2M491 366l3-3M511 216l3-3M511 222l2-2M509 228l2-2M509 234l2-2M508 240l1-1M508 247l3-3M507 252l2-2M507 259l3-3M506 265l1-1M505 270l2-2M504 278l2-2h1l2-2M504 283l3-3M503 290l2-2h1l2-2M503 295l3-3M503 301l3-3M502 307l1-1M501 313l1-1M499 320l2-2h1l2-2M500 326l3-3M499 331l3-3M499 338l2-2M499 344l1-1M497 350l1-1M497 356l3-3M496 362l2-2M515 217l1-1M515 223l2-2M514 229l1-1M513 236l3-3M512 243l2-2h1l2-2M512 247l3-3M512 254l2-2M510 260l3-3M511 266l1-1M509 272l2-2M509 278l1-1M509 285l2-2M508 291l2-2M508 297l2-2M506 303l3-3M506 309l3-3M505 316l2-2M505 321l2-2M504 327l3-3M503 333l2-2M503 339l2-2M503 346l2-2M501 352l1-1M501 358l2-2M520 213l2-2M519 220l2-2M518 226l1-1M518 232l2-2M517 238l2-2M517 243l3-3M516 250l3-3M515 256l3-3M515 262l2-2M514 268l3-3M514 274l3-3M513 280l1-1M513 287l1-1M512 293l3-3M511 298l2-2M511 305l2-2M511 311l2-2M510 316l1-1M508 323l2-2M508 330l3-3M508 335l3-3M507 342l1-1M507 348l1-1M506 353l1-1M524 215l2-2M524 221l1-1M523 227l1-1M522 233l2-2M522 240l1-1M521 246l1-1M520 251l2-2M519 258l2-2M518 263l3-3M518 270l3-3M518 276l2-2M517 282l3-3M517 289l3-3M516 294l3-3M515 301l2-2M515 306l2-2M513 314l2-2h1l2-2M513 320l2-2h1l2-2M513 324l2-2M512 331l3-3M512 337l3-3M511 343l2-2M511 350l2-2M510 356l2-2M527 217l2-2M527 223l2-2M526 229l2-2M527 235l2-2M526 242l1-1M524 247l2-2M524 254l1-1M524 260l3-3M523 265l3-3M522 272l1-1M522 277l2-2M521 284l2-2M521 290l3-3M520 296l3-3M520 303l3-3M519 308l2-2M518 314l2-2M518 320l2-2M517 326l2-2M516 332l3-3M516 339l2-2M515 345l3-3M514 352l3-3M532 218l1-1M531 224l2-2M531 231l1-1M530 237l2-2M530 243l3-3M529 249l3-3M528 255l2-2M528 261l2-2M527 267l1-1M527 274l2-2M526 280l3-3M525 285l2-2M525 292l2-2M525 298l3-3M523 304l2-2M523 310l3-3M523 316l3-3M522 322l3-3M521 328l1-1M520 334l2-2M520 341l2-2M519 347l2-2M536 220l3-3M536 227l1-1M535 233l3-3M534 239l3-3M533 244l1-1M533 251l3-3M533 258l3-3M532 263l2-2M532 270l3-3M530 275l1-1M531 281l2-2M529 287l1-1M528 293l2-2M529 300l1-1M527 306l1-1M527 312l2-2M527 318l3-3M526 324l3-3M526 331l2-2M524 336l1-1M525 342l2-2M524 348l3-3M540 222l2-2M539 228l2-2M539 235l2-2M539 240l2-2M538 246l3-3M536 254l2-2h1l2-2M537 259l3-3M536 265l3-3M536 271l2-2M535 277l3-3M534 283l1-1M533 289l2-2M533 295l2-2M533 302l1-1M530 308l2-2h1l2-2M531 314l3-3M530 320l3-3M530 326l3-3M529 331l2-2M528 338l2-2M528 345l2-2M543 219l2-2h1l2-2M545 224l2-2M544 231l2-2M543 236l1-1M542 242l3-3M541 249l2-2M542 255l3-3M540 260l2-2M539 267l2-2h1l2-2M539 273l3-3M539 279l3-3M538 285l1-1M537 292l3-3M537 298l3-3M536 303l2-2M536 310l3-3M536 316l2-2M534 323l2-2h1l2-2M535 328l2-2M533 334l2-2M533 340l2-2M549 220l2-2M548 226l3-3M548 232l3-3M548 237l1-1M547 244l3-3M546 250l1-1M546 256l2-2M545 262l2-2M544 269l3-3M543 275l3-3M543 281l3-3M543 287l2-2M542 293l2-2M542 299l3-3M540 305l3-3M540 311l2-2M539 319l2-2h1l2-2M539 323l2-2M538 329l2-2M538 335l2-2M554 222l3-3M552 228l2-2M552 234l3-3M551 240l2-2M551 246l3-3M551 252l1-1M549 258l3-3M549 265l3-3M549 270l3-3M547 277l2-2M547 283l1-1M547 288l1-1M545 295l2-2M545 301l1-1M545 307l2-2M544 313l2-2M543 320l2-2h1l2-2M543 325l2-2M543 331l1-1M541 339l2-2h1l2-2M558 224l3-3M557 229l3-3M556 236l1-1M555 241l2-2M555 247l3-3M555 254l1-1M553 260l3-3M553 266l3-3M553 272l2-2M552 279l2-2M551 284l1-1M550 290l3-3M550 297l3-3M550 303l3-3M549 309l1-1M549 314l3-3M548 320l2-2M547 327l2-2M546 334l2-2M562 226l2-2M560 232l2-2M560 237l3-3M560 244l2-2M559 250l1-1M558 256l2-2M558 262l3-3M556 268l2-2h1l2-2M556 274l3-3M556 280l2-2M556 286l2-2M555 292l2-2M554 298l3-3M553 304l3-3M551 312l2-2h1l2-2M552 317l2-2M551 323l2-2M551 328l1-1M565 227l3-3M564 232l1-1M564 240l3-3M562 246l2-2h1l2-2M562 252l2-2M562 258l3-3M562 264l3-3M561 270l3-3M560 275l1-1M559 283l2-2h1l2-2M560 288l2-2M558 294l2-2M558 300l2-2M557 306l2-2M557 313l3-3M556 319l2-2M556 324l2-2M555 331l2-2M570 223l3-3M570 228l2-2M569 235l3-3M568 241l3-3M568 247l1-1M567 253l1-1M567 259l2-2M566 266l3-3M565 272l1-1M565 277l3-3M564 283l1-1M563 290l3-3M563 296l3-3M563 302l3-3M562 307l1-1M561 314l3-3M560 320l1-1M560 326l3-3M574 225l3-3M574 230l1-1M574 236l1-1M572 244l2-2h1l2-2M571 249l2-2M571 255l3-3M571 261l1-1M570 267l3-3M569 273l1-1M568 279l1-1M569 286l3-3M568 292l2-2M567 297l2-2M567 303l1-1M566 309l3-3M566 316l3-3M565 322l2-2M578 226l3-3M577 233l1-1M577 238l2-2M577 245l1-1M576 251l1-1M576 257l2-2M574 264l2-2h1l2-2M575 269l1-1M573 276l2-2h1l2-2M573 281l1-1M572 287l1-1M571 293l2-2M571 299l2-2M570 305l3-3M570 312l2-2M570 317l3-3M582 228l3-3M582 234l3-3M581 241l1-1M580 247l2-2M579 253l1-1M579 258l1-1M579 265l1-1M578 271l3-3M577 278l2-2h1l2-2M577 283l3-3M577 289l2-2M575 295l3-3M576 301l1-1M575 308l1-1M573 313l2-2M574 319l2-2M587 230l1-1M586 235l1-1M585 242l1-1M585 248l3-3M584 254l1-1M584 261l2-2M583 267l3-3M583 272l2-2M581 279l2-2M581 284l1-1M579 291l2-2h1l2-2M580 297l3-3M579 303l2-2M579 309l3-3M577 316l2-2h1l2-2M591 231l2-2M590 238l2-2M590 244l1-1M588 250l2-2M588 255l2-2M588 263l3-3M588 268l2-2M586 274l3-3M586 280l3-3M585 286l1-1M584 293l1-1M585 298l2-2M584 304l2-2M583 311l2-2M595 228l3-3M594 234l2-2M594 239l2-2M593 247l2-2h1l2-2M593 252l1-1M592 257l1-1M591 264l3-3M591 270l3-3M591 276l1-1M590 282l2-2M589 289l2-2h1l2-2M589 294l2-2M588 300l3-3M588 306l2-2M587 312l1-1M600 229l3-3M599 235l2-2M598 241l2-2M598 248l3-3M597 253l3-3M596 259l3-3M596 266l1-1M596 271l2-2M594 278l3-3M594 284l3-3M593 290l2-2M593 297l2-2M593 302l2-2M591 309l3-3M604 231l3-3M602 237l2-2M602 243l2-2M601 249l3-3M601 255l2-2M600 261l3-3M600 267l2-2M599 273l2-2M598 280l2-2M598 286l3-3M597 292l1-1M597 298l3-3M595 305l2-2h1l2-2M607 233l3-3M607 238l3-3M607 245l2-2M606 251l1-1M605 257l2-2M605 263l3-3M604 270l3-3M603 276l2-2M603 281l1-1M603 288l2-2M601 293l2-2M601 299l2-2M612 235l1-1M611 240l2-2M611 246l3-3M610 252l1-1M609 259l3-3M609 266l3-3M608 271l3-3M607 277l1-1M607 284l1-1M607 289l2-2M606 296l1-1M605 301l2-2M617 230l2-2M616 236l3-3M615 243l2-2h1l2-2M614 248l3-3M614 255l3-3M614 260l3-3M613 266l2-2M612 273l3-3M612 279l3-3M610 285l1-1M611 291l2-2M609 298l2-2h1l2-2M621 232l1-1M620 238l2-2M619 245l1-1M618 251l3-3M618 257l1-1M617 262l2-2M617 269l2-2M617 274l1-1M615 282l2-2h1l2-2M615 287l1-1M615 293l1-1M624 233l2-2M624 240l2-2M623 246l2-2M623 252l3-3M622 259l1-1M622 264l1-1M621 270l1-1M620 277l2-2M620 283l2-2M619 289l2-2M619 294l2-2M628 236l1-1M628 242l2-2M628 247l2-2M626 255l2-2h1l2-2M626 260l2-2M626 266l3-3M625 272l3-3M624 279l2-2M624 284l2-2M624 291l2-2M632 237l2-2M632 243l2-2M632 250l2-2M631 255l3-3M630 262l1-1M630 268l2-2M630 273l3-3M629 280l1-1M629 287l3-3M637 239l1-1M636 246l2-2M636 251l1-1M635 257l1-1M634 264l3-3M634 269l2-2M633 275l3-3M633 282l2-2M641 241l2-2M641 247l3-3M640 253l2-2M639 260l1-1M639 265l1-1M639 271l2-2M637 278l2-2M636 284l3-3M646 236l1-1M645 243l3-3M645 249l1-1M644 255l1-1M643 261l2-2M643 267l3-3M642 274l1-1M641 280l3-3M649 239l3-3M649 245l3-3M649 251l2-2M648 257l3-3M648 263l3-3M646 269l2-2M646 275l3-3M654 240l3-3M654 246l3-3M653 252l3-3M652 258l3-3M651 264l1-1M651 271l2-2M650 277l3-3M659 242l3-3M657 248l2-2M657 255l1-1M656 261l2-2M655 267l2-2M655 273l1-1M662 244l3-3M661 251l2-2M661 256l2-2M660 262l1-1M660 268l3-3M666 245l1-1M665 252l2-2M665 258l1-1M665 264l1-1M671 242l3-3M670 248l3-3M670 253l1-1M670 259l2-2M668 266l3-3M675 244l2-2M674 250l3-3M674 256l1-1M674 261l2-2M679 245l1-1M679 251l3-3M678 257l3-3M683 247l1-1M682 253l3-3M683 259l2-2M688 248l3-3M687 255l2-2M691 250l2-2M696 247l3-3M695 252l1-1M700 247l2-2" stroke="#fff" stroke-width="1" fill="none" shape-rendering="crispEdges"/>
<g clip-path="url(#fc)" fill="none">
<polygon points="128.6,399.1 124.9,401.5 118.4,403.3 109.6,403.5 100.7,403.2 95.1,401.1 93.3,398.6 95.5,396 102.4,394.2 111.4,394.3 120.2,394.4 125.9,396.5" stroke="#f07c08" stroke-width="1.7" stroke-dasharray="3.5 2.5"/>
<polygon points="130,399.1 126,402.1 119,404.2 109.5,404.5 100,404.2 93.9,401.6 92.1,398.5 94.4,395.4 101.8,393.2 111.4,393.3 121,393.5 127.1,396" stroke="#6418e0" stroke-width="1.5"/>
<polygon points="175.4,392.9 173.3,395.5 166.1,397.1 157.4,397.2 148.7,397 143.1,394.9 141.2,392.4 143.5,389.9 150.4,388.2 159.2,388.1 168.1,388.3 174,390.3" stroke="#f07c08" stroke-width="1.7" stroke-dasharray="3.5 2.5"/>
<polygon points="176.7,393 174.4,396.1 166.7,398.1 157.4,398.2 148,397.9 142,395.4 139.9,392.4 142.3,389.3 149.8,387.2 159.2,387.2 168.8,387.3 175.2,389.8" stroke="#6418e0" stroke-width="1.5"/>
<polygon points="225,386.8 221.8,389.4 215.1,391.2 205.9,391.3 197.5,390.7 190.8,388.9 188.8,386.3 191.9,383.7 198.9,382.1 207.7,381.8 216.6,382.2 222.9,384.2" stroke="#f07c08" stroke-width="1.7" stroke-dasharray="3.5 2.5"/>
<polygon points="226.4,386.9 222.9,390 215.7,392.2 205.8,392.4 196.8,391.6 189.6,389.4 187.4,386.2 190.8,383.1 198.3,381.1 207.8,380.8 217.3,381.2 224.1,383.6" stroke="#6418e0" stroke-width="1.5"/>
<polygon points="273.6,380.7 271.1,383.3 263.6,384.8 254.9,385.1 246.5,384.6 240.6,382.7 238.4,380.2 241,377.6 247.9,376 256.7,375.7 265.2,376.2 271.1,378.1" stroke="#f07c08" stroke-width="1.7" stroke-dasharray="3.5 2.5"/>
<polygon points="274.9,380.7 272.2,383.9 264.2,385.8 254.8,386.1 245.8,385.5 239.4,383.2 237.1,380.1 239.8,377 247.3,375 256.8,374.7 265.9,375.3 272.3,377.6" stroke="#6418e0" stroke-width="1.5"/>
<polygon points="321.1,374.5 318.8,377.1 312,378.8 303.1,378.8 294.4,378.6 288.3,376.6 286.5,374 289.1,371.5 296.1,369.8 304.9,369.7 313.7,369.9 320.2,371.9" stroke="#f07c08" stroke-width="1.7" stroke-dasharray="3.5 2.5"/>
<polygon points="322.4,374.6 320,377.7 312.6,379.8 303.1,379.8 293.7,379.5 287.1,377.1 285.2,374 288,370.9 295.5,368.8 304.9,368.7 314.4,369 321.4,371.3" stroke="#6418e0" stroke-width="1.5"/>
<polygon points="369.7,368.4 366.9,370.9 360.3,372.6 351.5,372.8 342.6,372.6 336.6,370.5 334.6,367.9 337.4,365.3 344.6,363.7 353.3,363.6 361.9,363.9 367.8,365.9" stroke="#f07c08" stroke-width="1.7" stroke-dasharray="3.5 2.5"/>
<polygon points="371,368.5 368,371.5 360.9,373.6 351.4,373.9 341.9,373.5 335.4,371 333.3,367.8 336.3,364.7 344,362.8 353.3,362.6 362.7,362.9 369,365.3" stroke="#6418e0" stroke-width="1.5"/>
<polygon points="418.2,362.3 416,364.8 408.9,366.5 400.1,366.7 391.1,366.5 385.5,364.3 383.8,361.8 385.9,359.2 393,357.5 401.9,357.3 410.4,357.8 416.8,359.7" stroke="#f07c08" stroke-width="1.7" stroke-dasharray="3.5 2.5"/>
<polygon points="419.5,362.3 417.2,365.5 409.5,367.5 400,367.8 390.3,367.4 384.3,364.8 382.5,361.7 384.7,358.6 392.4,356.5 402,356.3 411.1,356.9 418,359.2" stroke="#6418e0" stroke-width="1.5"/>
<polygon points="467.9,356.2 464.3,358.6 458,360.5 448.9,360.7 440.2,360.2 434.5,358.2 432.5,355.6 435.3,353.2 441.6,351.2 450.7,351.3 459.1,351.7 465.9,353.5" stroke="#f07c08" stroke-width="1.7" stroke-dasharray="3.5 2.5"/>
<polygon points="469.3,356.2 465.4,359.2 458.6,361.6 448.8,361.7 439.4,361.2 433.3,358.7 431.2,355.6 434.2,352.6 441,350.2 450.7,350.3 459.8,350.8 467.1,353" stroke="#6418e0" stroke-width="1.5"/>
<polygon points="516.3,350 513.9,352.6 506.8,354.3 497.9,354.4 488.9,354.2 482.6,352.2 481.2,349.5 483.9,347 490.5,345 499.7,345.1 508.6,345.4 514.9,347.4" stroke="#f07c08" stroke-width="1.7" stroke-dasharray="3.5 2.5"/>
<polygon points="517.6,350.1 515,353.2 507.4,355.3 497.8,355.5 488.1,355.2 481.4,352.7 479.9,349.4 482.8,346.4 489.8,344 499.8,344.1 509.3,344.4 516.2,346.8" stroke="#6418e0" stroke-width="1.5"/>
<polygon points="564.9,343.9 562.2,346.4 555.7,348.2 546.7,348.1 537.8,348 531.6,346 530.2,343.4 532.6,340.8 539.7,339.2 548.5,338.9 556.9,339.4 562.9,341.3" stroke="#f07c08" stroke-width="1.7" stroke-dasharray="3.5 2.5"/>
<polygon points="566.2,343.9 563.3,347 556.3,349.2 546.7,349.1 537.1,349 530.4,346.5 528.9,343.3 531.5,340.2 539.1,338.2 548.6,337.8 557.6,338.5 564.1,340.8" stroke="#6418e0" stroke-width="1.5"/>
<polygon points="613.3,337.8 610.4,340.2 604.1,342.2 595,342.3 586,341.9 580.6,339.8 578.4,337.2 581.4,334.8 587.8,332.9 596.8,332.7 605.7,333.1 611.7,335.2" stroke="#f07c08" stroke-width="1.7" stroke-dasharray="3.5 2.5"/>
<polygon points="614.6,337.8 611.4,340.8 604.7,343.2 594.9,343.3 585.3,342.9 579.5,340.3 577.1,337.2 580.3,334.2 587.2,331.9 596.9,331.7 606.4,332.1 612.9,334.6" stroke="#6418e0" stroke-width="1.5"/>
<polygon points="662,331.6 659.3,334.2 651.9,335.8 643.2,336.2 634.2,335.8 628.2,333.7 626.9,331.1 628.8,328.5 636,326.8 645,326.6 653.4,327.2 659.8,329" stroke="#f07c08" stroke-width="1.7" stroke-dasharray="3.5 2.5"/>
<polygon points="663.3,331.7 660.4,334.8 652.5,336.8 643.1,337.2 633.4,336.8 627,334.3 625.6,331.1 627.6,327.9 635.3,325.7 645.1,325.6 654.1,326.3 661,328.5" stroke="#6418e0" stroke-width="1.5"/>
</g>
<path d="M93 154V201.8h-1V264.2h-1V308.4A19.6 5.7 0 0 0 130 308.4V270.2h-1V194.8h-1V154Z" fill="#aa1669"/>
<path clip-path="url(#pc)" d="M93 154V201.8h-1V264.2h-1V308.4A19.6 5.7 0 0 0 130 308.4V270.2h-1V194.8h-1V154Z" fill="#b0176e"/>
<g shape-rendering="crispEdges">
<path d="M94 233.8h1V305.6h-1ZM96 156.6h1V304.9h-1ZM99 157.5h1V304.2h-1ZM100 167.6h1V185.1h-1ZM101 157.9h1V165.6h-1ZM101 234.9h1V303.8h-1ZM103 158.2h1V303.6h-1ZM105 158.4h1V181.5h-1ZM105 261.4h1V303.4h-1ZM107 158.5h1V177.9h-1ZM107 240.3h1V303.3h-1ZM110 158.6h1V303.2h-1ZM111 276.1h1V303.2h-1ZM113 206.5h1V303.3h-1ZM114 158.5h1V210.9h-1ZM116 158.3h1V188.2h-1ZM116 234.6h1V303.5h-1ZM118 254h1V303.7h-1ZM119 157.9h1V236.6h-1ZM120 241.4h1V303.8h-1ZM121 157.5h1V177.5h-1ZM123 156.9h1V304.6h-1ZM125 235.4h1V305.2h-1Z" fill="#fff"/>
<path clip-path="url(#pc)" d="M94 233.8h1V305.6h-1ZM96 156.6h1V304.9h-1ZM99 157.5h1V304.2h-1ZM100 167.6h1V185.1h-1ZM101 157.9h1V165.6h-1ZM101 234.9h1V303.8h-1ZM103 158.2h1V303.6h-1ZM105 158.4h1V181.5h-1ZM105 261.4h1V303.4h-1ZM107 158.5h1V177.9h-1ZM107 240.3h1V303.3h-1ZM110 158.6h1V303.2h-1ZM111 276.1h1V303.2h-1ZM113 206.5h1V303.3h-1ZM114 158.5h1V210.9h-1ZM116 158.3h1V188.2h-1ZM116 234.6h1V303.5h-1ZM118 254h1V303.7h-1ZM119 157.9h1V236.6h-1ZM120 241.4h1V303.8h-1ZM121 157.5h1V177.5h-1ZM123 156.9h1V304.6h-1ZM125 235.4h1V305.2h-1ZM94 155.6h1V305.6h-1ZM96 156.6h1V304.9h-1ZM99 157.5h1V304.2h-1ZM100 168.4h1V241.5h-1ZM101 157.9h1V167.9h-1ZM101 239.7h1V303.8h-1ZM103 158.2h1V303.6h-1ZM105 158.4h1V303.4h-1ZM107 158.5h1V303.3h-1ZM110 158.6h1V303.2h-1ZM111 270.8h1V303.2h-1ZM112 158.6h1V240.3h-1ZM113 208h1V303.3h-1ZM114 158.5h1V208.3h-1ZM116 158.3h1V303.5h-1ZM118 259.1h1V303.7h-1ZM119 157.9h1V271.9h-1ZM120 240.6h1V304h-1ZM121 157.5h1V258.8h-1ZM123 156.9h1V304.6h-1ZM125 156.2h1V305.2h-1Z" fill="#000"/>
<path clip-path="url(#pc)" d="M92.5 283.2V303M101.5 273.1V284.7M102.5 276V303.2M111.5 284.4V302.7M112.5 272.1V282.7M113.5 270.5V282M121.5 284.6V303.7" stroke="#000" stroke-width="1" stroke-dasharray="1 1" fill="none"/>
<ellipse cx="110.5" cy="308.4" rx="16" ry="5.4" fill="#fff"/>
<path d="M97.5 304.1V312.7M99.5 303.7V313.1M102.5 303.2V313.6M104.5 303V313.8M107.5 302.8V314M109.5 302.7V314.1M112.5 302.7V314.1M114.5 302.8V314M117.5 303.1V313.7M119.5 303.3V313.5M122.5 303.9V312.9M124.5 304.4V312.4M127.5 305.6V311.2" stroke="#aa1669" stroke-width="1" fill="none"/>
<path clip-path="url(#pc)" d="M92 288l1-1M96 276l1-1M98 284l1-1M106 294l1-1M109 293l2-2M113 269l1-1M115 290l1-1M119 280l1-1M120 291l2-2M121 302l1-1M124 272l1-1M126 293l1-1M127 303l1-1" stroke="#fff" stroke-width="1" fill="none"/>
</g>
<polygon points="127.3,154.2 126.7,155.6 125,156.9 122.4,158 118.9,158.9 114.8,159.4 110.5,159.6 106.2,159.4 102.1,158.9 98.6,158 96,156.9 94.3,155.6 93.7,154.2 94.3,152.5 96,151 98.6,149.6 102.1,148.6 106.2,148.5 110.5,148.5 114.8,148.5 118.9,148.6 122.4,149.6 125,151 126.7,152.5" fill="#ee9e00" shape-rendering="crispEdges"/>
<path d="M95 154.5h1M98 154.5h1M98 156.5h1M101 152.5h1M101 154.5h1M101 156.5h1M104.5 150v2M104.5 152v2M104 154.5h1M104 156.5h1M104 158.5h1M107 150.5h1M107 152.5h1M107.5 154v2M107 156.5h1M107.5 158v2M110 150.5h1M110 152.5h1M110.5 158v2M113 150.5h1M113 154.5h1M113 156.5h1M113 158.5h1M116 150.5h1M116 154.5h1M116 156.5h1M116.5 158v2M119.5 152v2M119 154.5h1M119 156.5h1M122 152.5h1M122 154.5h1M122 156.5h1M125 154.5h1" stroke="#b8208a" stroke-width="1" fill="none" shape-rendering="crispEdges"/>
<path d="M114 152.5h1M117 152.5h1" stroke="#fff" stroke-width="1" fill="none" shape-rendering="crispEdges"/>
<path d="M141 151.3V202.2h-1V254h-1V302.3A19.6 5.7 0 0 0 178 302.3V260h-1V195.2h-1V151.3Z" fill="#a81477"/>
<path clip-path="url(#pc)" d="M141 151.3V202.2h-1V254h-1V302.3A19.6 5.7 0 0 0 178 302.3V260h-1V195.2h-1V151.3Z" fill="#b11688"/>
<g shape-rendering="crispEdges">
<path d="M142 239.8h1V299.5h-1ZM144 153.9h1V298.8h-1ZM146 154.5h1V184.5h-1ZM146 244.7h1V298.3h-1ZM148 264.4h1V297.9h-1ZM149 155.9h1V273.9h-1ZM151 155.5h1V190.3h-1ZM151 255.5h1V297.4h-1ZM152 224.9h1V255.6h-1ZM154 155.8h1V297.2h-1ZM156 235.3h1V297.1h-1ZM158 155.9h1V297.1h-1ZM160 155.9h1V182.8h-1ZM161 226h1V297.1h-1ZM162 255.6h1V297.2h-1ZM163 155.7h1V236.7h-1ZM164 237h1V297.3h-1ZM165 155.5h1V188.7h-1ZM165 251.8h1V297.4h-1ZM167 155.2h1V297.7h-1ZM169 154.8h1V180.5h-1ZM170 237.4h1V298.3h-1ZM171 154.2h1V239.2h-1ZM173 234.4h1V299.1h-1Z" fill="#fff"/>
<path clip-path="url(#pc)" d="M142 239.8h1V299.5h-1ZM144 153.9h1V298.8h-1ZM146 154.5h1V184.5h-1ZM146 244.7h1V298.3h-1ZM148 264.4h1V297.9h-1ZM149 155.9h1V273.9h-1ZM151 155.5h1V190.3h-1ZM151 255.5h1V297.4h-1ZM152 224.9h1V255.6h-1ZM154 155.8h1V297.2h-1ZM156 235.3h1V297.1h-1ZM158 155.9h1V297.1h-1ZM160 155.9h1V182.8h-1ZM161 226h1V297.1h-1ZM162 255.6h1V297.2h-1ZM163 155.7h1V236.7h-1ZM164 237h1V297.3h-1ZM165 155.5h1V188.7h-1ZM165 251.8h1V297.4h-1ZM167 155.2h1V297.7h-1ZM169 154.8h1V180.5h-1ZM170 237.4h1V298.3h-1ZM171 154.2h1V239.2h-1ZM173 234.4h1V299.1h-1ZM142 152.9h1V299.5h-1ZM144 153.9h1V298.8h-1ZM146 154.5h1V298.3h-1ZM148 270.8h1V297.9h-1ZM149 155.2h1V269.9h-1ZM151 155.5h1V225.3h-1ZM151 256.3h1V297.4h-1ZM152 223.3h1V255.2h-1ZM154 155.8h1V297.2h-1ZM156 155.9h1V226.6h-1ZM156 238.1h1V297.1h-1ZM158 155.9h1V297.1h-1ZM160 155.9h1V257.4h-1ZM160 294.4h1V297.1h-1ZM161 225.8h1V294h-1ZM162 255h1V297.2h-1ZM163 155.7h1V241.1h-1ZM164 239.9h1V297.3h-1ZM165 155.5h1V238h-1ZM165 256.8h1V297.4h-1ZM167 155.2h1V297.7h-1ZM169 154.8h1V258.5h-1ZM170 240.4h1V298.3h-1ZM171 154.2h1V238.6h-1ZM173 153.5h1V299.1h-1Z" fill="#000"/>
<path clip-path="url(#pc)" d="M146.5 266.7V297.8M147.5 263.7V287M150.5 265.8V289.8M152.5 252.3V290.1M153.5 268.1V296.8M175.5 233.7V251.7" stroke="#000" stroke-width="1" stroke-dasharray="1 1" fill="none"/>
<ellipse cx="158.5" cy="302.3" rx="16" ry="5.4" fill="#fff"/>
<path d="M145.5 298V306.5M147.5 297.6V307M150.5 297.1V307.5M152.5 296.8V307.7M155.5 296.6V307.9M157.5 296.6V308M160.5 296.6V307.9M161.5 296.6V307.9M162.5 296.7V307.9M165.5 296.9V307.6M167.5 297.2V307.3M170.5 297.8V306.8M172.5 298.3V306.3M175.5 299.4V305.1" stroke="#a81477" stroke-width="1" fill="none"/>
<path clip-path="url(#pc)" d="M141 253l2-2M144 284l1-1M145 259l1-1M151 258l1-1M155 256l2-2M156 282l2-2M157 252l1-1M160 245l1-1M162 285l1-1M163 263l1-1M164 263l1-1M165 293l1-1M169 241l2-2M170 242l1-1M172 255l2-2M173 276l1-1M175 292l1-1" stroke="#fff" stroke-width="1" fill="none"/>
</g>
<polygon points="175.3,151.5 174.7,152.9 173,154.2 170.4,155.3 166.9,156.2 162.8,156.7 158.5,156.9 154.2,156.7 150.1,156.2 146.6,155.3 144,154.2 142.3,152.9 141.7,151.5 142.3,149.8 144,148.3 146.6,146.9 150.1,145.9 154.2,145.8 158.5,145.8 162.8,145.8 166.9,145.9 170.4,146.9 173,148.3 174.7,149.8" fill="#ee9e00" shape-rendering="crispEdges"/>
<path d="M143 151.5h1M146 149.5h1M149 149.5h1M149 151.5h1M149 153.5h1M152 147.5h1M152 149.5h1M152 151.5h1M152 153.5h1M152 155.5h1M155 149.5h1M155 151.5h1M155.5 153v2M155 155.5h1M158 147.5h1M158 149.5h1M158.5 155v2M161 147.5h1M161 149.5h1M161 151.5h1M161.5 153v2M161.5 155v2M164 147.5h1M164 153.5h1M164 155.5h1M167.5 149v2M167 151.5h1M170 149.5h1M170 151.5h1M173 151.5h1" stroke="#b8208a" stroke-width="1" fill="none" shape-rendering="crispEdges"/>
<path d="M156 147.5h1M159 151.5h1M168 153.5h1" stroke="#fff" stroke-width="1" fill="none" shape-rendering="crispEdges"/>
<path d="M189 147.5V199.2h-1V246.5h-1V296.1A19.6 5.7 0 0 0 226 296.1V252.5h-1V192.2h-1V147.5Z" fill="#a61281"/>
<path clip-path="url(#pc)" d="M189 147.5V199.2h-1V246.5h-1V296.1A19.6 5.7 0 0 0 226 296.1V252.5h-1V192.2h-1V147.5Z" fill="#b2159b"/>
<g shape-rendering="crispEdges">
<path d="M190 239.6h1V293.3h-1ZM192 150.1h1V292.7h-1ZM194 229.8h1V292.1h-1ZM195 151h1V238h-1ZM197 151.4h1V169.8h-1ZM197 203h1V291.6h-1ZM198 172.2h1V200.7h-1ZM199 151.7h1V174h-1ZM199 244.1h1V291.3h-1ZM201 151.9h1V178h-1ZM201 215.3h1V291.1h-1ZM203 163.2h1V204.1h-1ZM203 278.5h1V291h-1ZM204 152.1h1V157.7h-1ZM204 201h1V276.1h-1ZM206 152.1h1V159.7h-1ZM206 259.3h1V290.9h-1ZM207 163.2h1V173.7h-1ZM207 222.2h1V257.5h-1ZM208 152.1h1V166.9h-1ZM208 284.3h1V287.9h-1ZM209 230h1V283.3h-1ZM209 285.6h1V291h-1ZM210 152h1V232h-1ZM211 240.4h1V291.1h-1ZM213 152.2h1V174.1h-1ZM213 247.6h1V291.3h-1ZM215 151.4h1V291.6h-1ZM217 236.7h1V291.9h-1ZM219 150.4h1V292.4h-1ZM221 233.4h1V293h-1Z" fill="#fff"/>
<path clip-path="url(#pc)" d="M190 239.6h1V293.3h-1ZM192 150.1h1V292.7h-1ZM194 229.8h1V292.1h-1ZM195 151h1V238h-1ZM197 151.4h1V169.8h-1ZM197 203h1V291.6h-1ZM198 172.2h1V200.7h-1ZM199 151.7h1V174h-1ZM199 244.1h1V291.3h-1ZM201 151.9h1V178h-1ZM201 215.3h1V291.1h-1ZM203 163.2h1V204.1h-1ZM203 278.5h1V291h-1ZM204 152.1h1V157.7h-1ZM204 201h1V276.1h-1ZM206 152.1h1V159.7h-1ZM206 259.3h1V290.9h-1ZM207 163.2h1V173.7h-1ZM207 222.2h1V257.5h-1ZM208 152.1h1V166.9h-1ZM208 284.3h1V287.9h-1ZM209 230h1V283.3h-1ZM209 285.6h1V291h-1ZM210 152h1V232h-1ZM211 240.4h1V291.1h-1ZM213 152.2h1V174.1h-1ZM213 247.6h1V291.3h-1ZM215 151.4h1V291.6h-1ZM217 236.7h1V291.9h-1ZM219 150.4h1V292.4h-1ZM221 233.4h1V293h-1ZM190 149.1h1V163.2h-1ZM190 237.2h1V293.3h-1ZM192 150.1h1V292.7h-1ZM194 236.4h1V292.1h-1ZM195 151h1V235.1h-1ZM197 151.4h1V291.6h-1ZM198 171.2h1V237.5h-1ZM199 151.7h1V291.3h-1ZM201 151.9h1V291.1h-1ZM203 161.6h1V234.4h-1ZM203 281.8h1V291h-1ZM204 152.1h1V281h-1ZM206 152.1h1V162.7h-1ZM206 262.6h1V290.9h-1ZM207 160.6h1V260.9h-1ZM208 152.1h1V171.7h-1ZM208 280.2h1V289.8h-1ZM209 235.6h1V282.2h-1ZM210 152h1V236.9h-1ZM211 236.2h1V291.1h-1ZM213 151.7h1V291.3h-1ZM215 151.4h1V291.6h-1ZM217 151h1V291.9h-1ZM219 150.4h1V292.4h-1ZM221 149.7h1V293h-1Z" fill="#000"/>
<path clip-path="url(#pc)" d="M203.5 221.2V239.4M212.5 218.1V242.3M213.5 211V257.8M215.5 230.3V285.1M216.5 232.8V267.9M217.5 232.8V280.5M220.5 236.3V269.1M222.5 219.4V237.8" stroke="#000" stroke-width="1" stroke-dasharray="1 1" fill="none"/>
<ellipse cx="206.5" cy="296.1" rx="16" ry="5.4" fill="#fff"/>
<path d="M193.5 291.9V300.4M195.5 291.4V300.9M198.5 290.9V301.3M200.5 290.7V301.6M203.5 290.5V301.8M205.5 290.4V301.8M208.5 290.5V301.8M210.5 290.6V301.7M213.5 290.8V301.5M215.5 291.1V301.2M218.5 291.6V300.6M220.5 292.2V300.1M223.5 293.3V299" stroke="#a61281" stroke-width="1" fill="none"/>
<path clip-path="url(#pc)" d="M188 268l2-2M189 269l1-1M190 267l2-2M192 250l2-2M193 234l1-1M194 264l1-1M195 264l1-1M196 258l1-1M198 254l1-1M199 255l1-1M202 224l1-1M205 219l2-2M206 283l1-1M207 259l1-1M210 240l1-1M212 259l1-1M215 246l2-2M217 283l2-2M218 249l2-2M221 223l1-1M222 283l2-2M223 258l1-1M224 283l2-2" stroke="#fff" stroke-width="1" fill="none"/>
</g>
<polygon points="223.3,147.7 222.7,149.1 221,150.4 218.4,151.5 214.9,152.4 210.8,152.9 206.5,153.1 202.2,152.9 198.1,152.4 194.6,151.5 192,150.4 190.3,149.1 189.7,147.7 190.3,146 192,144.5 194.6,143.1 198.1,142.1 202.2,142 206.5,142 210.8,142 214.9,142.1 218.4,143.1 221,144.5 222.7,146" fill="#ee9e00" shape-rendering="crispEdges"/>
<path d="M191 147.5h1M194 149.5h1M197 147.5h1M197 149.5h1M200 143.5h1M200 145.5h1M200 147.5h1M200 151.5h1M203 143.5h1M203 147.5h1M203 149.5h1M203 151.5h1M206 143.5h1M206 145.5h1M206.5 147v2M206.5 149v2M206 151.5h1M209 143.5h1M209 145.5h1M209 147.5h1M209 149.5h1M209 151.5h1M212 147.5h1M212.5 149v2M215 149.5h1M218 145.5h1M218 147.5h1M218 149.5h1" stroke="#b8208a" stroke-width="1" fill="none" shape-rendering="crispEdges"/>
<path d="M195 145.5h1M213 143.5h1M216 147.5h1M222 147.5h1" stroke="#fff" stroke-width="1" fill="none" shape-rendering="crispEdges"/>
<path d="M238 142.3V192.9h-1V245h-1V290A19.6 5.7 0 0 0 275 290V251h-1V185.9h-1V142.3Z" fill="#a61285"/>
<path clip-path="url(#pc)" d="M238 142.3V192.9h-1V245h-1V290A19.6 5.7 0 0 0 275 290V251h-1V185.9h-1V142.3Z" fill="#b314a2"/>
<g shape-rendering="crispEdges">
<path d="M239 230.8h1V249.7h-1ZM240 242.3h1V286.8h-1ZM241 144.9h1V229.7h-1ZM242 145.2h1V152.4h-1ZM242 223.5h1V286.2h-1ZM243 158.6h1V162.2h-1ZM244 146.7h1V168.5h-1ZM244 239.8h1V285.8h-1ZM246 146.2h1V285.4h-1ZM248 244.3h1V285.2h-1ZM250 146.7h1V265.1h-1ZM251 261.4h1V284.9h-1ZM253 146.9h1V284.8h-1ZM255 146.9h1V161h-1ZM255 229.1h1V284.8h-1ZM258 146.8h1V284.9h-1ZM260 146.7h1V155h-1ZM260 219.8h1V285h-1ZM261 157.5h1V161.8h-1ZM262 146.5h1V285.2h-1ZM264 146.2h1V163.3h-1ZM264 249.1h1V285.4h-1ZM266 214.9h1V285.8h-1ZM267 165h1V215.9h-1ZM268 146.4h1V162.3h-1ZM268 213.1h1V286.2h-1ZM270 220.4h1V286.8h-1Z" fill="#fff"/>
<path clip-path="url(#pc)" d="M239 230.8h1V249.7h-1ZM240 242.3h1V286.8h-1ZM241 144.9h1V229.7h-1ZM242 145.2h1V152.4h-1ZM242 223.5h1V286.2h-1ZM243 158.6h1V162.2h-1ZM244 146.7h1V168.5h-1ZM244 239.8h1V285.8h-1ZM246 146.2h1V285.4h-1ZM248 244.3h1V285.2h-1ZM250 146.7h1V265.1h-1ZM251 261.4h1V284.9h-1ZM253 146.9h1V284.8h-1ZM255 146.9h1V161h-1ZM255 229.1h1V284.8h-1ZM258 146.8h1V284.9h-1ZM260 146.7h1V155h-1ZM260 219.8h1V285h-1ZM261 157.5h1V161.8h-1ZM262 146.5h1V285.2h-1ZM264 146.2h1V163.3h-1ZM264 249.1h1V285.4h-1ZM266 214.9h1V285.8h-1ZM267 165h1V215.9h-1ZM268 146.4h1V162.3h-1ZM268 213.1h1V286.2h-1ZM270 220.4h1V286.8h-1ZM239 143.9h1V243.1h-1ZM240 242.6h1V286.8h-1ZM241 144.9h1V244.8h-1ZM242 145.2h1V151.9h-1ZM242 226.1h1V286.2h-1ZM243 154.4h1V224.4h-1ZM244 145.8h1V163.6h-1ZM244 243.8h1V285.8h-1ZM246 146.2h1V285.4h-1ZM248 146.5h1V285.2h-1ZM250 146.7h1V261.6h-1ZM251 262.2h1V284.9h-1ZM253 146.9h1V284.8h-1ZM255 146.9h1V284.8h-1ZM258 146.8h1V284.9h-1ZM260 146.7h1V154.2h-1ZM260 226.1h1V285h-1ZM261 152.7h1V225.7h-1ZM262 146.5h1V285.2h-1ZM264 146.2h1V285.4h-1ZM266 212.2h1V285.8h-1ZM267 163.7h1V209h-1ZM268 145.2h1V286.2h-1ZM270 144.5h1V286.8h-1Z" fill="#000"/>
<path clip-path="url(#pc)" d="M239.5 236.1V285.3M241.5 228.4V284.7M246.5 228.5V282.8M249.5 194.4V234.3M253.5 244.7V255.2M254.5 210V241.4M255.5 203.8V243.3M256.5 206V262.5M266.5 192V233.2M268.5 185.3V223.9" stroke="#000" stroke-width="1" stroke-dasharray="1 1" fill="none"/>
<ellipse cx="255.5" cy="290" rx="16" ry="5.4" fill="#fff"/>
<path d="M242.5 285.7V294.3M244.5 285.3V294.7M247.5 284.8V295.2M249.5 284.6V295.4M252.5 284.4V295.6M254.5 284.3V295.7M257.5 284.3V295.7M259.5 284.4V295.6M262.5 284.7V295.3M264.5 284.9V295.1M266.5 285.3V294.7M267.5 285.5V294.5M269.5 286V294M272.5 287.2V292.8" stroke="#a61285" stroke-width="1" fill="none"/>
<path clip-path="url(#pc)" d="M237 285l1-1M238 249l2-2M239 203l1-1M240 203l1-1M241 228l1-1M242 240l1-1M244 221l1-1M247 271l1-1M248 232l2-2M250 200l1-1M251 229l1-1M252 191l1-1M253 190l1-1M254 252l1-1M255 235l1-1M256 276l1-1M257 266l1-1M258 259l1-1M260 270l1-1M261 279l1-1M262 279l2-2M263 194l1-1M264 185l1-1M265 225l1-1M266 211l1-1M267 192l1-1M268 244l1-1M270 186l1-1M271 177l1-1M272 213l1-1M273 179l1-1" stroke="#fff" stroke-width="1" fill="none"/>
</g>
<polygon points="272.3,142.5 271.7,143.9 270,145.2 267.4,146.3 263.9,147.2 259.8,147.7 255.5,147.9 251.2,147.7 247.1,147.2 243.6,146.3 241,145.2 239.3,143.9 238.7,142.5 239.3,140.8 241,139.3 243.6,137.9 247.1,136.9 251.2,136.8 255.5,136.8 259.8,136.8 263.9,136.9 267.4,137.9 270,139.3 271.7,140.8" fill="#ee9e00" shape-rendering="crispEdges"/>
<path d="M240 142.5h1M243 140.5h1M243 144.5h1M246 140.5h1M246 142.5h1M246 144.5h1M249 138.5h1M249.5 142v2M249 144.5h1M249 146.5h1M252 140.5h1M252.5 142v2M252 144.5h1M252 146.5h1M255 138.5h1M255 140.5h1M255 142.5h1M255.5 146v2M258 138.5h1M258 140.5h1M258 142.5h1M258 146.5h1M261 138.5h1M261 140.5h1M261 142.5h1M261.5 144v2M261 146.5h1M264.5 140v2M264 142.5h1M267 140.5h1" stroke="#b8208a" stroke-width="1" fill="none" shape-rendering="crispEdges"/>
<path d="M250 140.5h1M253 138.5h1M271 142.5h1" stroke="#fff" stroke-width="1" fill="none" shape-rendering="crispEdges"/>
<path d="M286 136.1V187.8h-1V245h-1V283.9A19.6 5.7 0 0 0 323 283.9V251h-1V180.8h-1V136.1Z" fill="#a61285"/>
<path clip-path="url(#pc)" d="M286 136.1V187.8h-1V245h-1V283.9A19.6 5.7 0 0 0 323 283.9V251h-1V180.8h-1V136.1Z" fill="#b314a1"/>
<g shape-rendering="crispEdges">
<path d="M288 211.2h1V280.7h-1ZM290 139h1V149.5h-1ZM290 230h1V280.1h-1ZM291 155h1V194.7h-1ZM292 197.8h1V279.7h-1ZM294 140h1V279.3h-1ZM296 140.3h1V168.2h-1ZM296 230.9h1V279.1h-1ZM298 140.5h1V278.9h-1ZM300 140.6h1V170.6h-1ZM300 241.1h1V278.7h-1ZM301 213.6h1V244.3h-1ZM302 242.4h1V278.7h-1ZM303 140.7h1V212.5h-1ZM304 215.7h1V278.7h-1ZM305 140.7h1V166.2h-1ZM306 151.3h1V278.7h-1ZM307 141.1h1V158.5h-1ZM308 229.8h1V278.9h-1ZM310 141h1V279.1h-1ZM312 140.9h1V171.8h-1ZM313 213.5h1V279.5h-1ZM314 139.6h1V165.9h-1ZM315 257.5h1V279.9h-1ZM316 139h1V259.1h-1ZM318 235h1V280.7h-1Z" fill="#fff"/>
<path clip-path="url(#pc)" d="M288 211.2h1V280.7h-1ZM290 139h1V149.5h-1ZM290 230h1V280.1h-1ZM291 155h1V194.7h-1ZM292 197.8h1V279.7h-1ZM294 140h1V279.3h-1ZM296 140.3h1V168.2h-1ZM296 230.9h1V279.1h-1ZM298 140.5h1V278.9h-1ZM300 140.6h1V170.6h-1ZM300 241.1h1V278.7h-1ZM301 213.6h1V244.3h-1ZM302 242.4h1V278.7h-1ZM303 140.7h1V212.5h-1ZM304 215.7h1V278.7h-1ZM305 140.7h1V166.2h-1ZM306 151.3h1V278.7h-1ZM307 141.1h1V158.5h-1ZM308 229.8h1V278.9h-1ZM310 141h1V279.1h-1ZM312 140.9h1V171.8h-1ZM313 213.5h1V279.5h-1ZM314 139.6h1V165.9h-1ZM315 257.5h1V279.9h-1ZM316 139h1V259.1h-1ZM318 235h1V280.7h-1ZM288 138.3h1V280.7h-1ZM290 139h1V153.9h-1ZM290 233.2h1V280.1h-1ZM291 153h1V231.7h-1ZM292 139.6h1V154.9h-1ZM292 198.4h1V279.7h-1ZM294 140h1V279.3h-1ZM296 140.3h1V197.5h-1ZM296 233.7h1V279.1h-1ZM298 140.5h1V278.9h-1ZM300 140.6h1V278.7h-1ZM301 213.7h1V246.2h-1ZM302 246.7h1V278.7h-1ZM303 140.7h1V213h-1ZM304 214.3h1V278.7h-1ZM305 140.7h1V230.5h-1ZM306 155.4h1V278.7h-1ZM307 140.6h1V230.8h-1ZM308 232.8h1V278.9h-1ZM310 140.3h1V279.1h-1ZM312 140h1V211.5h-1ZM313 214.3h1V279.5h-1ZM314 139.6h1V213.7h-1ZM315 260.5h1V279.9h-1ZM316 139h1V258.2h-1ZM318 138.3h1V280.7h-1Z" fill="#000"/>
<path clip-path="url(#pc)" d="M286.5 185.3V239.4M292.5 193.5V236.2M293.5 175.7V193.6M294.5 177.6V210.8M295.5 184.1V234.9M296.5 193.7V211.5M304.5 185.5V227.3M306.5 181.9V236.8M308.5 231.4V261.6M310.5 213.8V263.9M315.5 192V249.6M316.5 233.4V255.1M318.5 215.6V244.3M319.5 234.8V271.3" stroke="#000" stroke-width="1" stroke-dasharray="1 1" fill="none"/>
<ellipse cx="303.5" cy="283.9" rx="16" ry="5.4" fill="#fff"/>
<path d="M290.5 279.6V288.1M292.5 279.2V288.6M295.5 278.7V289.1M296.5 278.6V289.2M297.5 278.5V289.3M298.5 278.4V289.4M300.5 278.2V289.5M302.5 278.2V289.6M305.5 278.2V289.6M307.5 278.3V289.5M310.5 278.6V289.2M312.5 278.8V288.9M315.5 279.4V288.4M317.5 279.9V287.9M318.5 280.2V287.5M319.5 280.6V287.2M320.5 281V286.7" stroke="#a61285" stroke-width="1" fill="none"/>
<path clip-path="url(#pc)" d="M285 273l1-1M286 260l1-1M287 243l1-1M288 205l1-1M289 204l1-1M290 263l2-2M291 205l1-1M292 227l1-1M293 219l1-1M294 236l1-1M295 195l2-2M296 237l1-1M297 211l1-1M298 237l1-1M299 179l1-1M300 200l1-1M301 234l1-1M302 245l1-1M303 192l1-1M304 228l2-2M305 195l1-1M306 256l1-1M307 213l1-1M308 229l1-1M309 265l1-1M310 221l2-2M311 270l1-1M312 210l1-1M313 260l1-1M314 227l1-1M316 196l1-1M317 240l2-2M318 231l1-1M319 238l1-1M320 271l2-2M321 194l1-1" stroke="#fff" stroke-width="1" fill="none"/>
</g>
<polygon points="320.3,136.3 319.7,137.7 318,139 315.4,140.1 311.9,141 307.8,141.5 303.5,141.7 299.2,141.5 295.1,141 291.6,140.1 289,139 287.3,137.7 286.7,136.3 287.3,134.6 289,133.1 291.6,131.7 295.1,130.7 299.2,130.6 303.5,130.6 307.8,130.6 311.9,130.7 315.4,131.7 318,133.1 319.7,134.6" fill="#ee9e00" shape-rendering="crispEdges"/>
<path d="M288 136.5h1M291 134.5h1M291 136.5h1M291 138.5h1M294 134.5h1M294.5 136v2M297 132.5h1M297 134.5h1M297 136.5h1M297 140.5h1M300 134.5h1M300 138.5h1M300 140.5h1M303 134.5h1M303 136.5h1M303.5 138v2M303 140.5h1M306 134.5h1M306 136.5h1M306 140.5h1M309 132.5h1M309 134.5h1M309 136.5h1M309 140.5h1M312.5 134v2M312.5 136v2M312 138.5h1M315 136.5h1M318 136.5h1" stroke="#b8208a" stroke-width="1" fill="none" shape-rendering="crispEdges"/>
<path d="M295 138.5h1M304 132.5h1M307 132.5h1M316 138.5h1" stroke="#fff" stroke-width="1" fill="none" shape-rendering="crispEdges"/>
<path d="M335 129.5V175.4h-1V239h-1V277.8A19.6 5.7 0 0 0 372 277.8V245h-1V168.4h-1V129.5Z" fill="#a61283"/>
<path clip-path="url(#pc)" d="M335 129.5V175.4h-1V239h-1V277.8A19.6 5.7 0 0 0 372 277.8V245h-1V168.4h-1V129.5Z" fill="#b3149e"/>
<g shape-rendering="crispEdges">
<path d="M336 203.7h1V275h-1ZM339 132.4h1V273.5h-1ZM341 133h1V153.2h-1ZM341 229.5h1V273.5h-1ZM343 133.4h1V273.2h-1ZM344 254.6h1V273h-1ZM346 133.8h1V272.8h-1ZM348 134h1V154.8h-1ZM349 203.9h1V272.6h-1ZM350 134.1h1V153.3h-1ZM351 222.5h1V272.6h-1ZM352 134.1h1V205.6h-1ZM353 205.8h1V272.6h-1ZM355 134h1V147.4h-1ZM355 226.8h1V272.6h-1ZM357 133.9h1V272.7h-1ZM360 148.8h1V273h-1ZM361 133.4h1V146.6h-1ZM362 223.5h1V273.3h-1ZM363 133h1V150.6h-1ZM365 132.4h1V274h-1ZM367 202.7h1V274.6h-1Z" fill="#fff"/>
<path clip-path="url(#pc)" d="M336 203.7h1V275h-1ZM339 132.4h1V273.5h-1ZM341 133h1V153.2h-1ZM341 229.5h1V273.5h-1ZM343 133.4h1V273.2h-1ZM344 254.6h1V273h-1ZM346 133.8h1V272.8h-1ZM348 134h1V154.8h-1ZM349 203.9h1V272.6h-1ZM350 134.1h1V153.3h-1ZM351 222.5h1V272.6h-1ZM352 134.1h1V205.6h-1ZM353 205.8h1V272.6h-1ZM355 134h1V147.4h-1ZM355 226.8h1V272.6h-1ZM357 133.9h1V272.7h-1ZM360 148.8h1V273h-1ZM361 133.4h1V146.6h-1ZM362 223.5h1V273.3h-1ZM363 133h1V150.6h-1ZM365 132.4h1V274h-1ZM367 202.7h1V274.6h-1ZM336 131.1h1V275h-1ZM339 132.4h1V274h-1ZM341 133h1V203.9h-1ZM341 223.6h1V273.5h-1ZM343 133.4h1V273.2h-1ZM344 252.9h1V273h-1ZM346 133.8h1V272.8h-1ZM348 134h1V203.8h-1ZM349 203.3h1V272.6h-1ZM350 134.1h1V253.1h-1ZM351 223.8h1V272.6h-1ZM352 134.1h1V223.3h-1ZM353 205.8h1V272.6h-1ZM355 134h1V272.6h-1ZM357 133.9h1V272.7h-1ZM359 133.7h1V150h-1ZM360 151.2h1V273h-1ZM361 133.4h1V222.5h-1ZM362 224.4h1V273.3h-1ZM363 133h1V224.4h-1ZM365 132.4h1V274h-1ZM367 131.7h1V274.6h-1Z" fill="#000"/>
<path clip-path="url(#pc)" d="M335.5 184.1V194.4M337.5 202.5V258.5M343.5 229.5V260.8M349.5 215.5V272.1M351.5 188.4V203.9M360.5 214.3V237M364.5 192.2V236.9M366.5 225.1V254.1M368.5 233.9V262.1M370.5 222.5V249.2" stroke="#000" stroke-width="1" stroke-dasharray="1 1" fill="none"/>
<ellipse cx="352.5" cy="277.8" rx="16" ry="5.4" fill="#fff"/>
<path d="M339.5 273.5V282M341.5 273V282.5M344.5 272.5V283M346.5 272.3V283.2M349.5 272.1V283.4M351.5 272.1V283.4M354.5 272.1V283.4M356.5 272.2V283.3M359.5 272.4V283.1M361.5 272.7V282.8M363.5 273V282.5M364.5 273.2V282.3M366.5 273.8V281.7M369.5 274.9V280.6" stroke="#a61283" stroke-width="1" fill="none"/>
<path clip-path="url(#pc)" d="M334 192l2-2M335 204l1-1M336 224l1-1M337 231l1-1M339 210l1-1M340 269l2-2M341 215l2-2M342 236l1-1M346 204l1-1M347 188l2-2M349 211l1-1M352 266l1-1M356 226l1-1M357 219l1-1M358 224l1-1M359 202l1-1M360 270l1-1M361 220l1-1M363 225l1-1M364 266l1-1M365 215l1-1M367 202l1-1M368 245l1-1M370 234l1-1" stroke="#fff" stroke-width="1" fill="none"/>
</g>
<polygon points="369.3,129.7 368.7,131.1 367,132.4 364.4,133.5 360.9,134.4 356.8,134.9 352.5,135.1 348.2,134.9 344.1,134.4 340.6,133.5 338,132.4 336.3,131.1 335.7,129.7 336.3,128 338,126.5 340.6,125.1 344.1,124.1 348.2,124 352.5,124 356.8,124 360.9,124.1 364.4,125.1 367,126.5 368.7,128" fill="#ee9e00" shape-rendering="crispEdges"/>
<path d="M337 129.5h1M343 127.5h1M343.5 131v2M346 125.5h1M346 127.5h1M346 129.5h1M346 131.5h1M346 133.5h1M349 125.5h1M349 127.5h1M349 129.5h1M352 125.5h1M352 127.5h1M352 129.5h1M352 131.5h1M355 127.5h1M355 129.5h1M355 131.5h1M355 133.5h1M358 125.5h1M358.5 127v2M358 129.5h1M358 133.5h1M361 127.5h1M364 127.5h1M364 129.5h1M364.5 131v2" stroke="#b8208a" stroke-width="1" fill="none" shape-rendering="crispEdges"/>
<path d="M344 129.5h1M359 131.5h1" stroke="#fff" stroke-width="1" fill="none" shape-rendering="crispEdges"/>
<path d="M383 123.7V172.7h-1V234.3h-1V271.6A19.6 5.7 0 0 0 420 271.6V240.3h-1V165.7h-1V123.7Z" fill="#a61284"/>
<path clip-path="url(#pc)" d="M383 123.7V172.7h-1V234.3h-1V271.6A19.6 5.7 0 0 0 420 271.6V240.3h-1V165.7h-1V123.7Z" fill="#b314a0"/>
<g shape-rendering="crispEdges">
<path d="M384 202.1h1V268.8h-1ZM386 233.8h1V249.9h-1ZM387 126.6h1V234h-1ZM387 249.1h1V267.5h-1ZM389 127.2h1V140.7h-1ZM389 217.5h1V267.4h-1ZM391 127.6h1V267.1h-1ZM393 220.2h1V266.8h-1ZM395 128.1h1V266.6h-1ZM397 128.2h1V140.6h-1ZM398 207h1V266.4h-1ZM400 128.3h1V266.4h-1ZM402 128.3h1V151.1h-1ZM402 207.3h1V266.4h-1ZM404 128.2h1V266.5h-1ZM406 201h1V266.7h-1ZM407 127.9h1V146.4h-1ZM409 127.6h1V267.1h-1ZM411 127.2h1V142.9h-1ZM411 214.2h1V267.4h-1ZM413 126.6h1V267.9h-1ZM415 211.3h1V268.5h-1Z" fill="#fff"/>
<path clip-path="url(#pc)" d="M384 202.1h1V268.8h-1ZM386 233.8h1V249.9h-1ZM387 126.6h1V234h-1ZM387 249.1h1V267.5h-1ZM389 127.2h1V140.7h-1ZM389 217.5h1V267.4h-1ZM391 127.6h1V267.1h-1ZM393 220.2h1V266.8h-1ZM395 128.1h1V266.6h-1ZM397 128.2h1V140.6h-1ZM398 207h1V266.4h-1ZM400 128.3h1V266.4h-1ZM402 128.3h1V151.1h-1ZM402 207.3h1V266.4h-1ZM404 128.2h1V266.5h-1ZM406 201h1V266.7h-1ZM407 127.9h1V146.4h-1ZM409 127.6h1V267.1h-1ZM411 127.2h1V142.9h-1ZM411 214.2h1V267.4h-1ZM413 126.6h1V267.9h-1ZM415 211.3h1V268.5h-1ZM384 125.3h1V268.8h-1ZM386 233.4h1V252.2h-1ZM387 126.6h1V235.6h-1ZM387 254.2h1V267.9h-1ZM389 127.2h1V267.4h-1ZM391 127.6h1V267.1h-1ZM393 127.9h1V205.4h-1ZM393 219.2h1V266.8h-1ZM395 128.1h1V266.6h-1ZM397 128.2h1V216.8h-1ZM398 208.3h1V266.4h-1ZM400 128.3h1V266.4h-1ZM402 128.3h1V266.4h-1ZM404 128.2h1V266.5h-1ZM406 207.1h1V266.7h-1ZM407 127.9h1V204.9h-1ZM409 127.6h1V267.1h-1ZM411 127.2h1V267.4h-1ZM413 126.6h1V267.9h-1ZM415 125.9h1V268.5h-1Z" fill="#000"/>
<path clip-path="url(#pc)" d="M382.5 200.4V228.6M383.5 202.1V221.4M385.5 198.5V213.5M390.5 218.4V262.2M393.5 208V254.7M407.5 197.6V218M409.5 215.8V265.1M410.5 227.9V266.7M414.5 222.1V264M416.5 202V238.7M417.5 237.7V268.8" stroke="#000" stroke-width="1" stroke-dasharray="1 1" fill="none"/>
<ellipse cx="400.5" cy="271.6" rx="16" ry="5.4" fill="#fff"/>
<path d="M387.5 267.4V275.9M389.5 266.9V276.3M392.5 266.4V276.8M394.5 266.2V277M397.5 266V277.3M398.5 265.9V277.3M399.5 265.9V277.3M402.5 265.9V277.3M404.5 266V277.2M405.5 266.1V277.1M407.5 266.3V276.9M409.5 266.6V276.7M412.5 267.1V276.1M414.5 267.6V275.6M417.5 268.8V274.5" stroke="#a61284" stroke-width="1" fill="none"/>
<path clip-path="url(#pc)" d="M382 248l1-1M383 224l1-1M386 224l1-1M389 256l1-1M391 195l1-1M392 235l2-2M393 264l2-2M395 220l2-2M396 233l2-2M397 194l1-1M398 242l1-1M400 193l1-1M401 228l1-1M403 248l1-1M407 262l1-1M408 244l1-1M409 242l1-1M410 261l1-1M412 258l1-1M413 226l1-1M415 256l1-1M417 227l2-2M418 211l1-1" stroke="#fff" stroke-width="1" fill="none"/>
</g>
<polygon points="417.3,123.9 416.7,125.3 415,126.6 412.4,127.7 408.9,128.6 404.8,129.1 400.5,129.3 396.2,129.1 392.1,128.6 388.6,127.7 386,126.6 384.3,125.3 383.7,123.9 384.3,122.2 386,120.7 388.6,119.3 392.1,118.3 396.2,118.2 400.5,118.2 404.8,118.2 408.9,118.3 412.4,119.3 415,120.7 416.7,122.2" fill="#ee9e00" shape-rendering="crispEdges"/>
<path d="M385 123.5h1M388.5 121v2M388 125.5h1M391 121.5h1M391.5 123v2M391 125.5h1M394 119.5h1M394 123.5h1M394 125.5h1M394 127.5h1M397 119.5h1M397 121.5h1M397 123.5h1M397.5 125v2M397.5 127v2M400 119.5h1M400 121.5h1M400 125.5h1M400 127.5h1M403 119.5h1M403 121.5h1M403 123.5h1M403 127.5h1M406 119.5h1M406.5 121v2M406.5 123v2M406 127.5h1M409 121.5h1M409.5 123v2M412.5 123v2M412 125.5h1M415 123.5h1" stroke="#b8208a" stroke-width="1" fill="none" shape-rendering="crispEdges"/>
<path d="M389 123.5h1M395 121.5h1M404 125.5h1M407 125.5h1M413 121.5h1" stroke="#fff" stroke-width="1" fill="none" shape-rendering="crispEdges"/>
<path d="M432 117.3V165.5h-1V218.6h-1V265.5A19.6 5.7 0 0 0 469 265.5V224.6h-1V158.5h-1V117.3Z" fill="#a61283"/>
<path clip-path="url(#pc)" d="M432 117.3V165.5h-1V218.6h-1V265.5A19.6 5.7 0 0 0 469 265.5V224.6h-1V158.5h-1V117.3Z" fill="#b3149e"/>
<g shape-rendering="crispEdges">
<path d="M433 213.8h1V262.7h-1ZM435 119.9h1V262h-1ZM436 120.2h1V130.5h-1ZM437 133.1h1V136.9h-1ZM438 122.3h1V145.3h-1ZM438 189.5h1V261.3h-1ZM440 121.2h1V260.5h-1ZM442 199.4h1V260.7h-1ZM444 121.7h1V260.5h-1ZM446 121.8h1V135.7h-1ZM446 219h1V260.4h-1ZM448 200.8h1V260.3h-1ZM449 121.9h1V143.8h-1ZM450 238.9h1V260.3h-1ZM451 121.9h1V237.4h-1ZM452 240h1V260.4h-1ZM454 121.7h1V260.5h-1ZM456 211.3h1V260.7h-1ZM458 121.2h1V260.9h-1ZM460 121.4h1V140.8h-1ZM461 162.9h1V261.5h-1ZM462 120.2h1V167.9h-1ZM464 195.5h1V262.3h-1Z" fill="#fff"/>
<path clip-path="url(#pc)" d="M433 213.8h1V262.7h-1ZM435 119.9h1V262h-1ZM436 120.2h1V130.5h-1ZM437 133.1h1V136.9h-1ZM438 122.3h1V145.3h-1ZM438 189.5h1V261.3h-1ZM440 121.2h1V260.5h-1ZM442 199.4h1V260.7h-1ZM444 121.7h1V260.5h-1ZM446 121.8h1V135.7h-1ZM446 219h1V260.4h-1ZM448 200.8h1V260.3h-1ZM449 121.9h1V143.8h-1ZM450 238.9h1V260.3h-1ZM451 121.9h1V237.4h-1ZM452 240h1V260.4h-1ZM454 121.7h1V260.5h-1ZM456 211.3h1V260.7h-1ZM458 121.2h1V260.9h-1ZM460 121.4h1V140.8h-1ZM461 162.9h1V261.5h-1ZM462 120.2h1V167.9h-1ZM464 195.5h1V262.3h-1ZM433 215h1V262.7h-1ZM435 119.9h1V262h-1ZM436 120.2h1V130.2h-1ZM437 130h1V194h-1ZM438 120.8h1V261.3h-1ZM440 121.2h1V260.9h-1ZM442 121.5h1V260.7h-1ZM444 121.7h1V260.5h-1ZM446 121.8h1V260.4h-1ZM448 194.1h1V260.3h-1ZM449 121.9h1V216.9h-1ZM450 239.1h1V260.3h-1ZM451 121.9h1V237.6h-1ZM452 238.3h1V260.4h-1ZM454 121.7h1V260.5h-1ZM456 121.5h1V260.7h-1ZM458 121.2h1V260.9h-1ZM460 120.8h1V239.4h-1ZM461 168.1h1V261.5h-1ZM462 120.2h1V168.9h-1ZM464 119.5h1V262.3h-1Z" fill="#000"/>
<path clip-path="url(#pc)" d="M439.5 205.1V216M441.5 205.8V231.6M452.5 231.2V248.7M454.5 232.4V260M458.5 232.6V260.4" stroke="#000" stroke-width="1" stroke-dasharray="1 1" fill="none"/>
<ellipse cx="449.5" cy="265.5" rx="16" ry="5.4" fill="#fff"/>
<path d="M436.5 261.2V269.8M438.5 260.8V270.2M441.5 260.3V270.7M443.5 260.1V270.9M446.5 259.9V271.1M448.5 259.8V271.2M451.5 259.8V271.2M453.5 259.9V271.1M456.5 260.2V270.8M458.5 260.4V270.6M461.5 261V270M463.5 261.5V269.5M464.5 261.8V269.2M466.5 262.7V268.3" stroke="#a61283" stroke-width="1" fill="none"/>
<path clip-path="url(#pc)" d="M432 223l1-1M433 238l2-2M434 259l1-1M436 246l1-1M438 219l1-1M443 259l1-1M446 218l1-1M447 244l1-1M448 213l2-2M449 212l1-1M451 257l1-1M452 232l1-1M453 256l1-1M455 223l1-1M457 220l1-1M458 221l1-1M459 254l1-1M462 234l2-2M464 243l1-1M465 211l1-1M466 255l1-1M467 231l2-2" stroke="#fff" stroke-width="1" fill="none"/>
</g>
<polygon points="466.3,117.5 465.7,118.9 464,120.2 461.4,121.3 457.9,122.2 453.8,122.7 449.5,122.9 445.2,122.7 441.1,122.2 437.6,121.3 435,120.2 433.3,118.9 432.7,117.5 433.3,115.8 435,114.3 437.6,112.9 441.1,111.9 445.2,111.8 449.5,111.8 453.8,111.8 457.9,111.9 461.4,112.9 464,114.3 465.7,115.8" fill="#ee9e00" shape-rendering="crispEdges"/>
<path d="M434 117.5h1M437.5 115v2M437 117.5h1M437 119.5h1M440 115.5h1M440 117.5h1M440 119.5h1M443 113.5h1M443.5 115v2M443 119.5h1M446 113.5h1M446 115.5h1M446.5 121v2M449 113.5h1M449 115.5h1M449 117.5h1M449 119.5h1M449.5 121v2M452 113.5h1M452 115.5h1M452 117.5h1M452.5 119v2M452 121.5h1M455.5 115v2M455 119.5h1M455.5 121v2M458 115.5h1M458 117.5h1M458 119.5h1M461 115.5h1M461 117.5h1M461.5 119v2M464 117.5h1" stroke="#b8208a" stroke-width="1" fill="none" shape-rendering="crispEdges"/>
<path d="M444 121.5h1M447 119.5h1" stroke="#fff" stroke-width="1" fill="none" shape-rendering="crispEdges"/>
<path d="M481 110.8V160.8h-1V220.5h-1V259.4A19.6 5.7 0 0 0 518 259.4V226.5h-1V153.8h-1V110.8Z" fill="#a61281"/>
<path clip-path="url(#pc)" d="M481 110.8V160.8h-1V220.5h-1V259.4A19.6 5.7 0 0 0 518 259.4V226.5h-1V153.8h-1V110.8Z" fill="#b2159b"/>
<g shape-rendering="crispEdges">
<path d="M482 209.5h1V255.2h-1ZM484 113.4h1V255.5h-1ZM486 188.7h1V255.4h-1ZM487 114.3h1V141.9h-1ZM489 114.7h1V254.8h-1ZM491 202.3h1V254.5h-1ZM492 115.1h1V131h-1ZM493 122.7h1V254.3h-1ZM494 115.3h1V133h-1ZM495 200.3h1V254.2h-1ZM496 115.4h1V142.9h-1ZM497 125.9h1V254.2h-1ZM498 115.4h1V127.7h-1ZM500 188.5h1V254.2h-1ZM502 115.3h1V178.8h-1ZM503 188.4h1V254.3h-1ZM505 115h1V142.8h-1ZM505 194.4h1V254.5h-1ZM507 114.7h1V254.8h-1ZM509 114.3h1V142.5h-1ZM509 201.8h1V255.1h-1ZM511 113.7h1V255.6h-1ZM513 193.1h1V256.2h-1Z" fill="#fff"/>
<path clip-path="url(#pc)" d="M482 209.5h1V255.2h-1ZM484 113.4h1V255.5h-1ZM486 188.7h1V255.4h-1ZM487 114.3h1V141.9h-1ZM489 114.7h1V254.8h-1ZM491 202.3h1V254.5h-1ZM492 115.1h1V131h-1ZM493 122.7h1V254.3h-1ZM494 115.3h1V133h-1ZM495 200.3h1V254.2h-1ZM496 115.4h1V142.9h-1ZM497 125.9h1V254.2h-1ZM498 115.4h1V127.7h-1ZM500 188.5h1V254.2h-1ZM502 115.3h1V178.8h-1ZM503 188.4h1V254.3h-1ZM505 115h1V142.8h-1ZM505 194.4h1V254.5h-1ZM507 114.7h1V254.8h-1ZM509 114.3h1V142.5h-1ZM509 201.8h1V255.1h-1ZM511 113.7h1V255.6h-1ZM513 193.1h1V256.2h-1ZM482 112.4h1V256.6h-1ZM484 113.4h1V255.9h-1ZM486 185.1h1V255.4h-1ZM487 114.3h1V198.3h-1ZM489 114.7h1V254.8h-1ZM491 208.3h1V254.5h-1ZM492 115.1h1V125.3h-1ZM493 127.7h1V254.3h-1ZM494 115.3h1V197.7h-1ZM495 196.3h1V254.2h-1ZM496 115.4h1V183.5h-1ZM497 124.4h1V254.2h-1ZM498 115.4h1V127.5h-1ZM500 115.4h1V254.2h-1ZM502 115.3h1V208h-1ZM503 186.1h1V254.3h-1ZM505 115h1V254.5h-1ZM507 114.7h1V254.8h-1ZM509 114.3h1V185.8h-1ZM509 198.2h1V255.1h-1ZM511 113.7h1V255.6h-1ZM513 113h1V256.2h-1Z" fill="#000"/>
<path clip-path="url(#pc)" d="M483.5 227.5V255.7M486.5 209.8V236.7M489.5 228.3V254.3M492.5 216.1V227.1M493.5 222.5V240.4M497.5 226.6V250.2M499.5 219.2V253.7M500.5 224.8V253.7M508.5 214.1V236.2M516.5 234.7V257.1" stroke="#000" stroke-width="1" stroke-dasharray="1 1" fill="none"/>
<ellipse cx="498.5" cy="259.4" rx="16" ry="5.4" fill="#fff"/>
<path d="M484.5 255.4V263.3M485.5 255.1V263.6M487.5 254.6V264.1M490.5 254.2V264.6M492.5 253.9V264.8M495.5 253.7V265M497.5 253.7V265.1M500.5 253.7V265M502.5 253.8V264.9M505.5 254V264.7M507.5 254.3V264.4M508.5 254.5V264.3M510.5 254.9V263.9M512.5 255.4V263.3M514.5 256.1V262.7M515.5 256.5V262.2" stroke="#a61281" stroke-width="1" fill="none"/>
<path clip-path="url(#pc)" d="M481 227l2-2M482 235l1-1M483 218l1-1M485 249l1-1M488 213l1-1M492 233l2-2M494 222l1-1M496 225l1-1M502 232l1-1M504 251l2-2M505 247l2-2M509 241l2-2M510 226l1-1M511 249l1-1M512 220l2-2M513 233l1-1M515 255l1-1" stroke="#fff" stroke-width="1" fill="none"/>
</g>
<polygon points="515.3,111 514.7,112.4 513,113.7 510.4,114.8 506.9,115.7 502.8,116.2 498.5,116.4 494.2,116.2 490.1,115.7 486.6,114.8 484,113.7 482.3,112.4 481.7,111 482.3,109.3 484,107.8 486.6,106.4 490.1,105.4 494.2,105.3 498.5,105.3 502.8,105.3 506.9,105.4 510.4,106.4 513,107.8 514.7,109.3" fill="#ee9e00" shape-rendering="crispEdges"/>
<path d="M483 110.5h1M486 108.5h1M486.5 110v2M486 112.5h1M489.5 108v2M489 110.5h1M489 112.5h1M492 106.5h1M492 108.5h1M492.5 110v2M492 112.5h1M492 114.5h1M495 106.5h1M495.5 108v2M495.5 112v2M498.5 106v2M498 108.5h1M498 110.5h1M498 112.5h1M498 114.5h1M501 106.5h1M501 108.5h1M501 110.5h1M501 114.5h1M504 106.5h1M504 110.5h1M504 112.5h1M507 108.5h1M507 110.5h1M507 112.5h1M510 108.5h1M510 110.5h1M510 112.5h1M513 110.5h1" stroke="#b8208a" stroke-width="1" fill="none" shape-rendering="crispEdges"/>
<path d="M496 114.5h1" stroke="#fff" stroke-width="1" fill="none" shape-rendering="crispEdges"/>
<path d="M530 101.3V147.6h-1V211.2h-1V253.2A19.6 5.7 0 0 0 567 253.2V217.2h-1V140.6h-1V101.3Z" fill="#a81474"/>
<path clip-path="url(#pc)" d="M530 101.3V147.6h-1V211.2h-1V253.2A19.6 5.7 0 0 0 567 253.2V217.2h-1V140.6h-1V101.3Z" fill="#b11681"/>
<g shape-rendering="crispEdges">
<path d="M531 184.9h1V250.4h-1ZM532 199.8h1V250.1h-1ZM534 104.9h1V249.5h-1ZM536 104.8h1V128.5h-1ZM537 172.1h1V248.8h-1ZM538 105.5h1V141.9h-1ZM539 141.7h1V177.2h-1ZM539 188.8h1V219.5h-1ZM540 173.6h1V184.4h-1ZM540 221.6h1V248.4h-1ZM541 116.4h1V136.3h-1ZM542 105.7h1V112.7h-1ZM542 176.4h1V248.2h-1ZM544 105.8h1V248.1h-1ZM546 186.7h1V248h-1ZM547 105.9h1V136.7h-1ZM549 105.9h1V235.9h-1ZM550 235.4h1V248.1h-1ZM551 105.8h1V127.1h-1ZM552 133.6h1V248.2h-1ZM553 105.6h1V128.2h-1ZM554 184.5h1V248.4h-1ZM556 105.2h1V248.7h-1ZM558 104.8h1V115.5h-1ZM558 202.3h1V249h-1ZM559 106.4h1V135.7h-1ZM560 104.2h1V249.5h-1ZM562 193.8h1V250.1h-1Z" fill="#fff"/>
<path clip-path="url(#pc)" d="M531 184.9h1V250.4h-1ZM532 199.8h1V250.1h-1ZM534 104.9h1V249.5h-1ZM536 104.8h1V128.5h-1ZM537 172.1h1V248.8h-1ZM538 105.5h1V141.9h-1ZM539 141.7h1V177.2h-1ZM539 188.8h1V219.5h-1ZM540 173.6h1V184.4h-1ZM540 221.6h1V248.4h-1ZM541 116.4h1V136.3h-1ZM542 105.7h1V112.7h-1ZM542 176.4h1V248.2h-1ZM544 105.8h1V248.1h-1ZM546 186.7h1V248h-1ZM547 105.9h1V136.7h-1ZM549 105.9h1V235.9h-1ZM550 235.4h1V248.1h-1ZM551 105.8h1V127.1h-1ZM552 133.6h1V248.2h-1ZM553 105.6h1V128.2h-1ZM554 184.5h1V248.4h-1ZM556 105.2h1V248.7h-1ZM558 104.8h1V115.5h-1ZM558 202.3h1V249h-1ZM559 106.4h1V135.7h-1ZM560 104.2h1V249.5h-1ZM562 193.8h1V250.1h-1ZM531 102.9h1V250.4h-1ZM532 203.1h1V250.1h-1ZM534 104.2h1V249.5h-1ZM536 104.8h1V149h-1ZM537 176.4h1V248.8h-1ZM538 105.2h1V174.8h-1ZM539 147.6h1V176h-1ZM539 188.8h1V219.8h-1ZM540 105.5h1V113h-1ZM540 175.4h1V203.7h-1ZM540 217.2h1V248.4h-1ZM541 113.2h1V189.4h-1ZM542 105.7h1V111.8h-1ZM542 175.3h1V248.2h-1ZM544 105.8h1V248.1h-1ZM546 187.1h1V248h-1ZM547 105.9h1V189.7h-1ZM549 105.9h1V236.5h-1ZM550 236.7h1V248.1h-1ZM551 105.8h1V174h-1ZM552 131.1h1V248.2h-1ZM553 105.6h1V187.2h-1ZM554 189.5h1V248.4h-1ZM556 105.2h1V248.7h-1ZM558 104.8h1V249h-1ZM559 110.8h1V131.8h-1ZM560 104.2h1V249.5h-1ZM562 103.5h1V250.1h-1Z" fill="#000"/>
<path clip-path="url(#pc)" d="M542.5 225.7V243.6M543.5 227.1V247.6M544.5 235.3V247.6M550.5 228.4V242.9M553.5 227.9V247.8M556.5 232.5V248.2M561.5 236V249.2M564.5 230V250.4" stroke="#000" stroke-width="1" stroke-dasharray="1 1" fill="none"/>
<ellipse cx="547.5" cy="253.2" rx="16" ry="5.4" fill="#fff"/>
<path d="M534.5 249V257.5M536.5 248.5V257.9M539.5 248V258.4M540.5 247.9V258.6M541.5 247.8V258.7M544.5 247.6V258.9M546.5 247.5V258.9M549.5 247.6V258.9M551.5 247.6V258.8M554.5 247.9V258.6M556.5 248.2V258.3M558.5 248.5V257.9M559.5 248.7V257.7M561.5 249.2V257.2M564.5 250.4V256.1" stroke="#a81474" stroke-width="1" fill="none"/>
<path clip-path="url(#pc)" d="M530 222l1-1M535 232l1-1M536 244l1-1M547 223l1-1M557 225l2-2M561 228l1-1M563 235l1-1M564 249l1-1" stroke="#fff" stroke-width="1" fill="none"/>
</g>
<polygon points="564.3,101.5 563.7,102.9 562,104.2 559.4,105.3 555.9,106.2 551.8,106.7 547.5,106.9 543.2,106.7 539.1,106.2 535.6,105.3 533,104.2 531.3,102.9 530.7,101.5 531.3,99.8 533,98.3 535.6,96.9 539.1,95.9 543.2,95.8 547.5,95.8 551.8,95.8 555.9,95.9 559.4,96.9 562,98.3 563.7,99.8" fill="#ee9e00" shape-rendering="crispEdges"/>
<path d="M532.5 101v2M535 99.5h1M535 101.5h1M535 103.5h1M538 99.5h1M538 101.5h1M538 103.5h1M541 97.5h1M541 99.5h1M541 101.5h1M541 103.5h1M541 105.5h1M544 97.5h1M544.5 99v2M544 101.5h1M544 103.5h1M544 105.5h1M547 97.5h1M547 99.5h1M547 101.5h1M547 103.5h1M547.5 105v2M550 97.5h1M550.5 99v2M550 101.5h1M550 103.5h1M550 105.5h1M553 97.5h1M553 99.5h1M553 103.5h1M553 105.5h1M556 99.5h1M556.5 101v2M556 103.5h1M559 99.5h1M559 103.5h1" stroke="#b8208a" stroke-width="1" fill="none" shape-rendering="crispEdges"/>
<path d="M554 101.5h1M560 101.5h1M563 101.5h1" stroke="#fff" stroke-width="1" fill="none" shape-rendering="crispEdges"/>
<path d="M578 95.3V148.4h-1V209.7h-1V247.1A19.6 5.7 0 0 0 615 247.1V215.7h-1V141.4h-1V95.3Z" fill="#a81474"/>
<path clip-path="url(#pc)" d="M578 95.3V148.4h-1V209.7h-1V247.1A19.6 5.7 0 0 0 615 247.1V215.7h-1V141.4h-1V95.3Z" fill="#b11682"/>
<g shape-rendering="crispEdges">
<path d="M579 190.8h1V242.1h-1ZM581 97.9h1V111.3h-1ZM581 171.3h1V243.6h-1ZM582 112.6h1V169.8h-1ZM583 98.5h1V124.7h-1ZM583 189.8h1V243.1h-1ZM585 99h1V242.7h-1ZM587 193.8h1V242.4h-1ZM588 99.5h1V144.2h-1ZM588 168.9h1V242.3h-1ZM589 145.5h1V153.9h-1ZM590 99.7h1V130.3h-1ZM590 155.2h1V242.1h-1ZM592 99.8h1V242h-1ZM594 197.2h1V241.9h-1ZM595 99.9h1V110.8h-1ZM596 109.7h1V124.9h-1ZM596 140.4h1V241.9h-1ZM597 99.9h1V137.4h-1ZM599 178.1h1V242h-1ZM600 99.7h1V126.6h-1ZM602 99.5h1V242.3h-1ZM604 99.2h1V123.4h-1ZM604 227.6h1V242.5h-1ZM605 191h1V223.8h-1ZM607 140.5h1V243.1h-1ZM608 98.2h1V138.8h-1ZM609 210.4h1V243.6h-1ZM610 178.7h1V215.6h-1Z" fill="#fff"/>
<path clip-path="url(#pc)" d="M579 190.8h1V242.1h-1ZM581 97.9h1V111.3h-1ZM581 171.3h1V243.6h-1ZM582 112.6h1V169.8h-1ZM583 98.5h1V124.7h-1ZM583 189.8h1V243.1h-1ZM585 99h1V242.7h-1ZM587 193.8h1V242.4h-1ZM588 99.5h1V144.2h-1ZM588 168.9h1V242.3h-1ZM589 145.5h1V153.9h-1ZM590 99.7h1V130.3h-1ZM590 155.2h1V242.1h-1ZM592 99.8h1V242h-1ZM594 197.2h1V241.9h-1ZM595 99.9h1V110.8h-1ZM596 109.7h1V124.9h-1ZM596 140.4h1V241.9h-1ZM597 99.9h1V137.4h-1ZM599 178.1h1V242h-1ZM600 99.7h1V126.6h-1ZM602 99.5h1V242.3h-1ZM604 99.2h1V123.4h-1ZM604 227.6h1V242.5h-1ZM605 191h1V223.8h-1ZM607 140.5h1V243.1h-1ZM608 98.2h1V138.8h-1ZM609 210.4h1V243.6h-1ZM610 178.7h1V215.6h-1ZM579 96.9h1V244.3h-1ZM581 97.9h1V113.3h-1ZM581 174.2h1V243.6h-1ZM582 109.9h1V174.1h-1ZM583 98.5h1V243.1h-1ZM585 99h1V242.7h-1ZM587 193.1h1V242.4h-1ZM588 99.5h1V242.3h-1ZM589 141.3h1V157.6h-1ZM590 99.7h1V139.3h-1ZM590 157.8h1V242.1h-1ZM592 99.8h1V242h-1ZM594 192.5h1V241.9h-1ZM595 99.9h1V191.6h-1ZM596 109.9h1V241.9h-1ZM597 99.9h1V138.4h-1ZM599 175.9h1V242h-1ZM600 99.7h1V191.9h-1ZM602 99.5h1V242.3h-1ZM604 99.2h1V125.8h-1ZM604 140.9h1V192.6h-1ZM604 224h1V242.5h-1ZM605 125h1V140.9h-1ZM605 189.5h1V223.8h-1ZM606 98.8h1V112.8h-1ZM607 139.3h1V243.1h-1ZM608 98.2h1V174.6h-1ZM609 211.8h1V243.6h-1ZM610 97.5h1V211.1h-1Z" fill="#000"/>
<path clip-path="url(#pc)" d="M581.5 236V243.1M592.5 235.3V241.5M593.5 231.4V241.4M599.5 232.3V241.5M605.5 231V242.2M607.5 234.1V242.6M613.5 238.2V244.8" stroke="#000" stroke-width="1" stroke-dasharray="1 1" fill="none"/>
<ellipse cx="595.5" cy="247.1" rx="16" ry="5.4" fill="#fff"/>
<path d="M582.5 242.8V251.4M584.5 242.4V251.8M587.5 241.9V252.3M589.5 241.7V252.5M591.5 241.5V252.7M592.5 241.5V252.7M594.5 241.4V252.8M595.5 241.4V252.8M597.5 241.4V252.8M599.5 241.5V252.7M602.5 241.8V252.4M604.5 242V252.2M607.5 242.6V251.6M609.5 243.1V251.1M612.5 244.3V249.9" stroke="#a81474" stroke-width="1" fill="none"/>
<path clip-path="url(#pc)" d="M597 236l1-1M601 234l1-1M604 233l2-2M611 238l1-1" stroke="#fff" stroke-width="1" fill="none"/>
</g>
<polygon points="612.3,95.5 611.7,96.9 610,98.2 607.4,99.3 603.9,100.2 599.8,100.7 595.5,100.9 591.2,100.7 587.1,100.2 583.6,99.3 581,98.2 579.3,96.9 578.7,95.5 579.3,93.8 581,92.3 583.6,90.9 587.1,89.9 591.2,89.8 595.5,89.8 599.8,89.8 603.9,89.9 607.4,90.9 610,92.3 611.7,93.8" fill="#ee9e00" shape-rendering="crispEdges"/>
<path d="M583 93.5h1M583 95.5h1M583 97.5h1M586 93.5h1M586.5 97v2M589 91.5h1M589 93.5h1M589 95.5h1M589 97.5h1M589 99.5h1M592 91.5h1M592 97.5h1M592.5 99v2M595 91.5h1M595.5 93v2M595.5 95v2M595.5 99v2M598 91.5h1M598 93.5h1M598 95.5h1M598 97.5h1M598 99.5h1M601 93.5h1M601 97.5h1M601 99.5h1M604.5 93v2M604 95.5h1M604 97.5h1M607 93.5h1M607 95.5h1M607 97.5h1" stroke="#b8208a" stroke-width="1" fill="none" shape-rendering="crispEdges"/>
<path d="M581 95.5h1M593 93.5h1M593 95.5h1M602 95.5h1" stroke="#fff" stroke-width="1" fill="none" shape-rendering="crispEdges"/>
<path d="M626 90V132.8h-1V198h-1V241A19.6 5.7 0 0 0 663 241V204h-1V125.8h-1V90Z" fill="#a81477"/>
<path clip-path="url(#pc)" d="M626 90V132.8h-1V198h-1V241A19.6 5.7 0 0 0 663 241V204h-1V125.8h-1V90Z" fill="#b11688"/>
<g shape-rendering="crispEdges">
<path d="M627 188.6h1V238.2h-1ZM629 93.1h1V235.5h-1ZM630 229.4h1V237.2h-1ZM631 93.2h1V121.2h-1ZM632 190.5h1V236.8h-1ZM634 93.9h1V236.4h-1ZM637 94.3h1V121.8h-1ZM637 167.8h1V236h-1ZM639 94.5h1V235.9h-1ZM641 185.5h1V235.8h-1ZM643 94.6h1V235.8h-1ZM645 172.3h1V235.8h-1ZM646 94.5h1V122h-1ZM648 94.4h1V236h-1ZM650 94.2h1V107.1h-1ZM650 181.3h1V236.1h-1ZM651 110.7h1V130.3h-1ZM652 93.9h1V236.4h-1ZM654 93.5h1V129.4h-1ZM654 182h1V236.3h-1ZM655 136.1h1V236.5h-1ZM656 94.1h1V134.3h-1ZM658 169h1V237.8h-1Z" fill="#fff"/>
<path clip-path="url(#pc)" d="M627 188.6h1V238.2h-1ZM629 93.1h1V235.5h-1ZM630 229.4h1V237.2h-1ZM631 93.2h1V121.2h-1ZM632 190.5h1V236.8h-1ZM634 93.9h1V236.4h-1ZM637 94.3h1V121.8h-1ZM637 167.8h1V236h-1ZM639 94.5h1V235.9h-1ZM641 185.5h1V235.8h-1ZM643 94.6h1V235.8h-1ZM645 172.3h1V235.8h-1ZM646 94.5h1V122h-1ZM648 94.4h1V236h-1ZM650 94.2h1V107.1h-1ZM650 181.3h1V236.1h-1ZM651 110.7h1V130.3h-1ZM652 93.9h1V236.4h-1ZM654 93.5h1V129.4h-1ZM654 182h1V236.3h-1ZM655 136.1h1V236.5h-1ZM656 94.1h1V134.3h-1ZM658 169h1V237.8h-1ZM627 91.6h1V107.1h-1ZM627 186h1V238.2h-1ZM629 92.6h1V230.1h-1ZM630 231.1h1V237.2h-1ZM631 93.2h1V185.5h-1ZM632 186.3h1V236.8h-1ZM634 93.9h1V236.4h-1ZM637 94.3h1V236h-1ZM639 94.5h1V235.9h-1ZM641 94.6h1V235.8h-1ZM643 94.6h1V235.8h-1ZM645 168.5h1V235.8h-1ZM646 94.5h1V187.4h-1ZM648 94.4h1V236h-1ZM650 94.2h1V166.5h-1ZM650 184.7h1V236.1h-1ZM651 105.8h1V138.7h-1ZM652 93.9h1V236.4h-1ZM654 93.5h1V236.8h-1ZM655 138.6h1V237h-1ZM656 92.9h1V184.9h-1ZM658 92.2h1V237.8h-1Z" fill="#000"/>
<ellipse cx="643.5" cy="241" rx="16" ry="5.4" fill="#fff"/>
<path d="M628.5 237.3V244.6M630.5 236.7V245.2M632.5 236.3V245.7M635.5 235.8V246.2M637.5 235.5V246.4M640.5 235.3V246.6M642.5 235.3V246.7M645.5 235.3V246.6M647.5 235.4V246.6M650.5 235.6V246.3M651.5 235.8V246.2M652.5 235.9V246M654.5 236.3V245.7M655.5 236.5V245.5M657.5 237V245M659.5 237.7V244.3M660.5 238.1V243.8" stroke="#a81477" stroke-width="1" fill="none"/>
</g>
<polygon points="640,84 662,84 662,89.6" fill="#fff"/>
<polygon points="627.6,89 629,86.8 632.3,85.1 640.1,84.8 656.8,88.5 661,89.3 660,91.1 651.6,94.2 645.3,95 638,94.6 630.7,92.6" fill="#ee9e00"/>
<path d="M634 90l2-2M638 91l2-2M642 90l2-2M646 92l2-2M650 91l2-2M654 90l2-2M637 88l2-2M645 89l2-2M652 93l2-2M641 93l2-2" stroke="#fff" stroke-width="1" fill="none" shape-rendering="crispEdges"/>
<g shape-rendering="crispEdges">
<rect x="646" y="108" width="26" height="159.5" fill="url(#cb)" stroke="#000" stroke-width="2"/>
<path d="M647 244.7h5M666 244.7h5M647 221.9h5M666 221.9h5M647 199.1h5M666 199.1h5M647 176.3h5M666 176.3h5M647 153.6h5M666 153.6h5M647 130.8h5M666 130.8h5" stroke="#000" stroke-width="2" fill="none"/>
</g>
<rect x="653" y="40.8" width="41" height="1.3" fill="url(#lg)"/>
<text x="372.6" y="9.6" text-anchor="middle">Skynet_61106_map148_148356_98747_cal</text>
<text x="645.2" y="46" text-anchor="end">1395.0 MHz RR</text>
<text x="-0.3" y="218.6">Intensity (K)</text>
<text x="193" y="469.8" text-anchor="middle">RA Offset (Cells=4.00')</text>
<text x="632.3" y="427.7" textLength="105.2" lengthAdjust="spacingAndGlyphs">Dec Offset (cells)</text>
<text x="31.5" y="308.7" text-anchor="end">0</text>
<text x="31.5" y="283.2" text-anchor="end">5</text>
<text x="31.5" y="257.6" text-anchor="end">10</text>
<text x="31.5" y="232.1" text-anchor="end">15</text>
<text x="31.5" y="206.6" text-anchor="end">20</text>
<text x="31.5" y="181" text-anchor="end">25</text>
<text x="31.5" y="155.5" text-anchor="end">30</text>
<text x="31.5" y="130" text-anchor="end">35</text>
<text x="685.2" y="272.2">0</text>
<text x="685.2" y="249.4">5</text>
<text x="685.2" y="226.6">10</text>
<text x="685.2" y="203.8">15</text>
<text x="685.2" y="181">20</text>
<text x="685.2" y="158.2">25</text>
<text x="685.2" y="135.5">30</text>
<text x="685.2" y="112.7">35</text>
<text x="81.2" y="415.5" text-anchor="middle">20</text>
<text x="137.2" y="425.9" text-anchor="middle">40</text>
<text x="193.2" y="436.3" text-anchor="middle">60</text>
<text x="249.2" y="446.7" text-anchor="middle">80</text>
<text x="301.4" y="457.1" text-anchor="middle">100</text>
<text x="357.4" y="467.5" text-anchor="middle">120</text>
<text x="413.4" y="478" text-anchor="middle">140</text>
<text x="512.3" y="461.6" text-anchor="middle">20</text>
<text x="545" y="443.4" text-anchor="middle">40</text>
<text x="577.6" y="425.3" text-anchor="middle">60</text>
<text x="610.3" y="407.1" text-anchor="middle">80</text>
<text x="645.3" y="388.9" text-anchor="middle">100</text>
<text x="677.9" y="370.8" text-anchor="middle">120</text>
<text x="710.6" y="352.6" text-anchor="middle">140</text>
</svg>
</body></html>
